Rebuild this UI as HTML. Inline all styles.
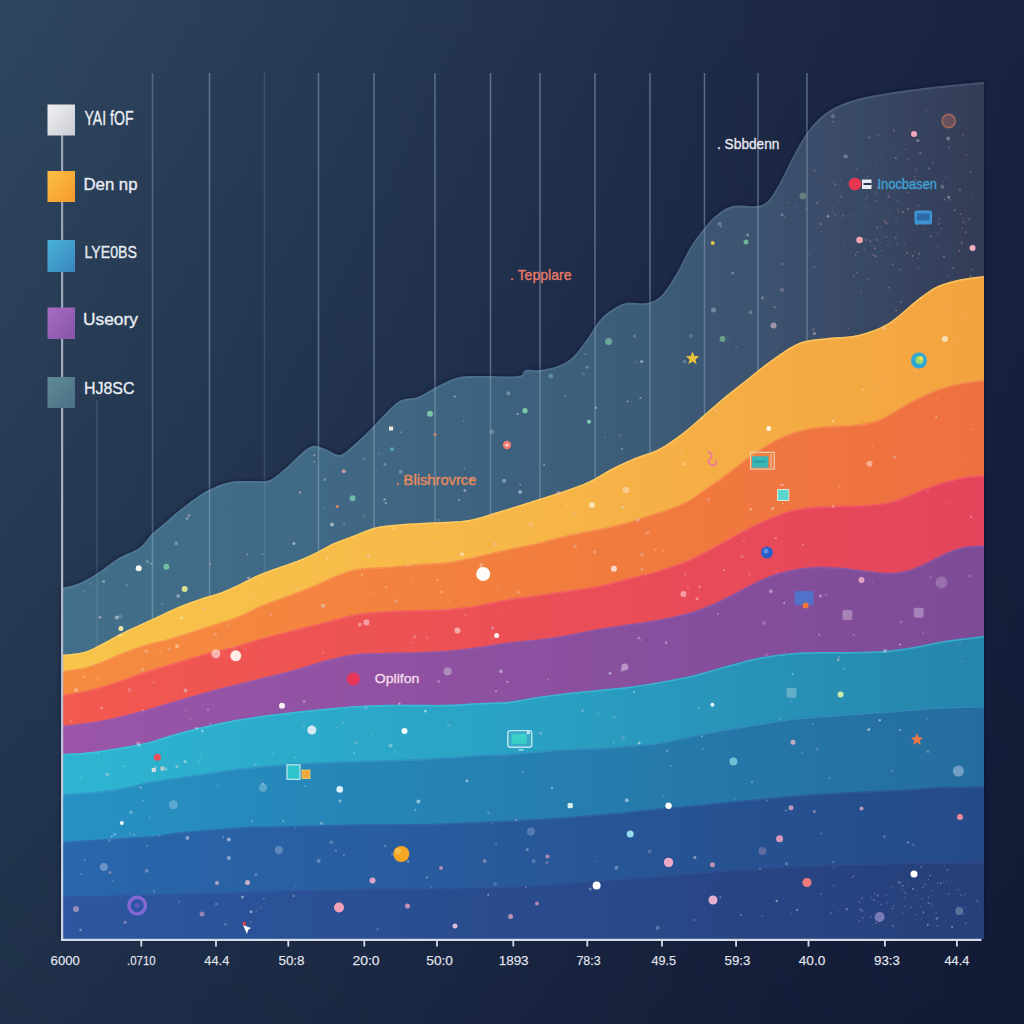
<!DOCTYPE html>
<html><head><meta charset="utf-8"><title>chart</title>
<style>
html,body{margin:0;padding:0;background:#1b2742;}
body{width:1024px;height:1024px;overflow:hidden;font-family:"Liberation Sans",sans-serif;}
svg{display:block;}
text{font-family:"Liberation Sans",sans-serif;}
</style></head><body>
<svg width="1024" height="1024" viewBox="0 0 1024 1024">
<defs>
<linearGradient id="bg" x1="0" y1="0" x2="1" y2="0">
<stop offset="0" stop-color="#2f465f"/><stop offset="0.5" stop-color="#23334f"/><stop offset="0.75" stop-color="#1d2945"/><stop offset="1" stop-color="#19233f"/>
</linearGradient>
<linearGradient id="bgv" x1="0" y1="0" x2="0" y2="1">
<stop offset="0" stop-color="#070d27" stop-opacity="0"/><stop offset="1" stop-color="#070d27" stop-opacity="0.40"/>
</linearGradient>
<linearGradient id="gGrey" x1="62" y1="0" x2="984" y2="0" gradientUnits="userSpaceOnUse">
<stop offset="0" stop-color="#426f8a"/><stop offset="0.25" stop-color="#416a86"/><stop offset="0.5" stop-color="#3d617e"/><stop offset="0.68" stop-color="#3d5975"/><stop offset="0.8" stop-color="#3b4f6c"/><stop offset="0.9" stop-color="#384561"/><stop offset="1" stop-color="#333c57"/>
</linearGradient>
<linearGradient id="gYel" x1="62" y1="0" x2="984" y2="0" gradientUnits="userSpaceOnUse">
<stop offset="0" stop-color="#f8c44a"/><stop offset="0.5" stop-color="#f7b648"/><stop offset="1" stop-color="#f3a340"/>
</linearGradient>
<linearGradient id="gOra" x1="62" y1="0" x2="984" y2="0" gradientUnits="userSpaceOnUse">
<stop offset="0" stop-color="#f68b40"/><stop offset="0.6" stop-color="#f17b3e"/><stop offset="1" stop-color="#ee7040"/>
</linearGradient>
<linearGradient id="gRed" x1="62" y1="0" x2="984" y2="0" gradientUnits="userSpaceOnUse">
<stop offset="0" stop-color="#f2594f"/><stop offset="1" stop-color="#e4455c"/>
</linearGradient>
<linearGradient id="gPur" x1="62" y1="0" x2="984" y2="0" gradientUnits="userSpaceOnUse">
<stop offset="0" stop-color="#9a55a8"/><stop offset="1" stop-color="#7d4c97"/>
</linearGradient>
<linearGradient id="gCya" x1="62" y1="0" x2="984" y2="0" gradientUnits="userSpaceOnUse">
<stop offset="0" stop-color="#2eb5d1"/><stop offset="0.5" stop-color="#2aa1c4"/><stop offset="1" stop-color="#2685ab"/>
</linearGradient>
<linearGradient id="gB1" x1="62" y1="0" x2="984" y2="0" gradientUnits="userSpaceOnUse">
<stop offset="0" stop-color="#2791c3"/><stop offset="1" stop-color="#256d9f"/>
</linearGradient>
<linearGradient id="gB2" x1="62" y1="0" x2="984" y2="0" gradientUnits="userSpaceOnUse">
<stop offset="0" stop-color="#2a67ac"/><stop offset="1" stop-color="#254a88"/>
</linearGradient>
<linearGradient id="gB3" x1="62" y1="0" x2="984" y2="0" gradientUnits="userSpaceOnUse">
<stop offset="0" stop-color="#2c57a0"/><stop offset="1" stop-color="#273f7a"/>
</linearGradient>
<filter id="sh" x="-5%" y="-5%" width="110%" height="110%"><feDropShadow dx="0" dy="0" stdDeviation="2.5" flood-color="#0b1330" flood-opacity="0.55"/></filter>
<clipPath id="clipGrey"><path d="M61.5,588.0 C64.6,587.2 73.6,585.8 80.0,583.0 C86.4,580.2 93.7,575.6 100.0,571.5 C106.3,567.4 111.3,562.5 118.0,558.5 C124.7,554.5 134.3,551.6 140.0,547.5 C145.7,543.4 147.8,538.1 152.0,534.0 C156.2,529.9 160.3,527.0 165.0,523.0 C169.7,519.0 173.3,515.2 180.0,510.0 C186.7,504.8 196.7,496.7 205.0,492.0 C213.3,487.3 221.7,483.8 230.0,482.0 C238.3,480.2 248.3,481.3 255.0,481.0 C261.7,480.7 264.8,482.2 270.0,480.0 C275.2,477.8 279.3,473.5 286.0,468.0 C292.7,462.5 303.5,450.2 310.0,447.0 C316.5,443.8 320.0,447.7 325.0,449.0 C330.0,450.3 335.0,455.8 340.0,455.0 C345.0,454.2 350.0,448.2 355.0,444.0 C360.0,439.8 362.8,437.0 370.0,430.0 C377.2,423.0 390.0,407.5 398.0,402.0 C406.0,396.5 411.2,399.8 418.0,397.0 C424.8,394.2 432.0,388.8 439.0,385.5 C446.0,382.2 452.5,378.6 460.0,377.0 C467.5,375.4 476.5,376.1 484.0,376.0 C491.5,375.9 498.8,376.7 505.0,376.6 C511.2,376.5 517.5,376.6 521.0,375.5 C524.5,374.4 522.8,370.9 526.0,370.0 C529.2,369.1 534.7,370.7 540.0,370.0 C545.3,369.3 552.5,368.2 558.0,366.0 C563.5,363.8 568.0,361.7 573.0,357.0 C578.0,352.3 583.5,344.2 588.0,338.0 C592.5,331.8 596.1,324.7 600.0,320.0 C603.9,315.3 607.3,312.8 611.6,310.0 C615.9,307.2 620.1,304.2 626.0,303.0 C631.9,301.8 641.0,304.3 647.0,303.0 C653.0,301.7 657.0,300.0 662.0,295.0 C667.0,290.0 672.0,281.3 677.0,273.0 C682.0,264.7 687.0,253.0 692.0,245.0 C697.0,237.0 702.7,230.2 707.0,225.0 C711.3,219.8 713.7,217.2 718.0,214.0 C722.3,210.8 726.5,207.3 733.0,206.0 C739.5,204.7 751.0,207.0 757.0,206.0 C763.0,205.0 765.0,204.2 769.0,200.0 C773.0,195.8 777.0,188.2 781.0,181.0 C785.0,173.8 789.0,164.5 793.0,157.0 C797.0,149.5 801.0,142.0 805.0,136.0 C809.0,130.0 812.2,125.7 817.0,121.0 C821.8,116.3 827.2,111.7 834.0,108.0 C840.8,104.3 849.0,101.5 858.0,99.0 C867.0,96.5 875.7,95.0 888.0,93.0 C900.3,91.0 916.0,88.8 932.0,87.0 C948.0,85.2 975.3,82.8 984.0,82.0 L984,939 L61,939 Z"/></clipPath>
<clipPath id="clipChart"><rect x="62" y="60" width="922" height="879"/></clipPath>
</defs>
<rect width="1024" height="1024" fill="url(#bg)"/>
<rect width="1024" height="1024" fill="url(#bgv)"/>

<line x1="97.0" y1="400" x2="97.0" y2="646.1" stroke="#a9bce6" stroke-opacity="0.18" stroke-width="1.5"/>
<line x1="152.5" y1="73" x2="152.5" y2="618.9" stroke="#a9bce6" stroke-opacity="0.33" stroke-width="1.5"/>
<line x1="209.5" y1="73" x2="209.5" y2="595.9" stroke="#a9bce6" stroke-opacity="0.44" stroke-width="1.5"/>
<line x1="264.5" y1="73" x2="264.5" y2="572.7" stroke="#a9bce6" stroke-opacity="0.18" stroke-width="1.5"/>
<line x1="318.5" y1="73" x2="318.5" y2="551.2" stroke="#a9bce6" stroke-opacity="0.44" stroke-width="1.5"/>
<line x1="374.0" y1="73" x2="374.0" y2="528.3" stroke="#a9bce6" stroke-opacity="0.44" stroke-width="1.5"/>
<line x1="435.0" y1="73" x2="435.0" y2="522.2" stroke="#a9bce6" stroke-opacity="0.44" stroke-width="1.5"/>
<line x1="490.5" y1="73" x2="490.5" y2="513.9" stroke="#a9bce6" stroke-opacity="0.44" stroke-width="1.5"/>
<line x1="540.0" y1="73" x2="540.0" y2="498.7" stroke="#a9bce6" stroke-opacity="0.44" stroke-width="1.5"/>
<line x1="595.0" y1="73" x2="595.0" y2="478.1" stroke="#a9bce6" stroke-opacity="0.44" stroke-width="1.5"/>
<line x1="650.0" y1="73" x2="650.0" y2="452.4" stroke="#a9bce6" stroke-opacity="0.44" stroke-width="1.5"/>
<line x1="704.5" y1="73" x2="704.5" y2="414.5" stroke="#a9bce6" stroke-opacity="0.44" stroke-width="1.5"/>
<line x1="758.0" y1="73" x2="758.0" y2="370.7" stroke="#a9bce6" stroke-opacity="0.44" stroke-width="1.5"/>
<line x1="807.0" y1="73" x2="807.0" y2="341.6" stroke="#a9bce6" stroke-opacity="0.44" stroke-width="1.5"/>
<path d="M61.5,588.0 C64.6,587.2 73.6,585.8 80.0,583.0 C86.4,580.2 93.7,575.6 100.0,571.5 C106.3,567.4 111.3,562.5 118.0,558.5 C124.7,554.5 134.3,551.6 140.0,547.5 C145.7,543.4 147.8,538.1 152.0,534.0 C156.2,529.9 160.3,527.0 165.0,523.0 C169.7,519.0 173.3,515.2 180.0,510.0 C186.7,504.8 196.7,496.7 205.0,492.0 C213.3,487.3 221.7,483.8 230.0,482.0 C238.3,480.2 248.3,481.3 255.0,481.0 C261.7,480.7 264.8,482.2 270.0,480.0 C275.2,477.8 279.3,473.5 286.0,468.0 C292.7,462.5 303.5,450.2 310.0,447.0 C316.5,443.8 320.0,447.7 325.0,449.0 C330.0,450.3 335.0,455.8 340.0,455.0 C345.0,454.2 350.0,448.2 355.0,444.0 C360.0,439.8 362.8,437.0 370.0,430.0 C377.2,423.0 390.0,407.5 398.0,402.0 C406.0,396.5 411.2,399.8 418.0,397.0 C424.8,394.2 432.0,388.8 439.0,385.5 C446.0,382.2 452.5,378.6 460.0,377.0 C467.5,375.4 476.5,376.1 484.0,376.0 C491.5,375.9 498.8,376.7 505.0,376.6 C511.2,376.5 517.5,376.6 521.0,375.5 C524.5,374.4 522.8,370.9 526.0,370.0 C529.2,369.1 534.7,370.7 540.0,370.0 C545.3,369.3 552.5,368.2 558.0,366.0 C563.5,363.8 568.0,361.7 573.0,357.0 C578.0,352.3 583.5,344.2 588.0,338.0 C592.5,331.8 596.1,324.7 600.0,320.0 C603.9,315.3 607.3,312.8 611.6,310.0 C615.9,307.2 620.1,304.2 626.0,303.0 C631.9,301.8 641.0,304.3 647.0,303.0 C653.0,301.7 657.0,300.0 662.0,295.0 C667.0,290.0 672.0,281.3 677.0,273.0 C682.0,264.7 687.0,253.0 692.0,245.0 C697.0,237.0 702.7,230.2 707.0,225.0 C711.3,219.8 713.7,217.2 718.0,214.0 C722.3,210.8 726.5,207.3 733.0,206.0 C739.5,204.7 751.0,207.0 757.0,206.0 C763.0,205.0 765.0,204.2 769.0,200.0 C773.0,195.8 777.0,188.2 781.0,181.0 C785.0,173.8 789.0,164.5 793.0,157.0 C797.0,149.5 801.0,142.0 805.0,136.0 C809.0,130.0 812.2,125.7 817.0,121.0 C821.8,116.3 827.2,111.7 834.0,108.0 C840.8,104.3 849.0,101.5 858.0,99.0 C867.0,96.5 875.7,95.0 888.0,93.0 C900.3,91.0 916.0,88.8 932.0,87.0 C948.0,85.2 975.3,82.8 984.0,82.0 L984,939 L61,939 Z" fill="url(#gGrey)" filter="url(#sh)"/>
<path d="M61.5,588.0 C64.6,587.2 73.6,585.8 80.0,583.0 C86.4,580.2 93.7,575.6 100.0,571.5 C106.3,567.4 111.3,562.5 118.0,558.5 C124.7,554.5 134.3,551.6 140.0,547.5 C145.7,543.4 147.8,538.1 152.0,534.0 C156.2,529.9 160.3,527.0 165.0,523.0 C169.7,519.0 173.3,515.2 180.0,510.0 C186.7,504.8 196.7,496.7 205.0,492.0 C213.3,487.3 221.7,483.8 230.0,482.0 C238.3,480.2 248.3,481.3 255.0,481.0 C261.7,480.7 264.8,482.2 270.0,480.0 C275.2,477.8 279.3,473.5 286.0,468.0 C292.7,462.5 303.5,450.2 310.0,447.0 C316.5,443.8 320.0,447.7 325.0,449.0 C330.0,450.3 335.0,455.8 340.0,455.0 C345.0,454.2 350.0,448.2 355.0,444.0 C360.0,439.8 362.8,437.0 370.0,430.0 C377.2,423.0 390.0,407.5 398.0,402.0 C406.0,396.5 411.2,399.8 418.0,397.0 C424.8,394.2 432.0,388.8 439.0,385.5 C446.0,382.2 452.5,378.6 460.0,377.0 C467.5,375.4 476.5,376.1 484.0,376.0 C491.5,375.9 498.8,376.7 505.0,376.6 C511.2,376.5 517.5,376.6 521.0,375.5 C524.5,374.4 522.8,370.9 526.0,370.0 C529.2,369.1 534.7,370.7 540.0,370.0 C545.3,369.3 552.5,368.2 558.0,366.0 C563.5,363.8 568.0,361.7 573.0,357.0 C578.0,352.3 583.5,344.2 588.0,338.0 C592.5,331.8 596.1,324.7 600.0,320.0 C603.9,315.3 607.3,312.8 611.6,310.0 C615.9,307.2 620.1,304.2 626.0,303.0 C631.9,301.8 641.0,304.3 647.0,303.0 C653.0,301.7 657.0,300.0 662.0,295.0 C667.0,290.0 672.0,281.3 677.0,273.0 C682.0,264.7 687.0,253.0 692.0,245.0 C697.0,237.0 702.7,230.2 707.0,225.0 C711.3,219.8 713.7,217.2 718.0,214.0 C722.3,210.8 726.5,207.3 733.0,206.0 C739.5,204.7 751.0,207.0 757.0,206.0 C763.0,205.0 765.0,204.2 769.0,200.0 C773.0,195.8 777.0,188.2 781.0,181.0 C785.0,173.8 789.0,164.5 793.0,157.0 C797.0,149.5 801.0,142.0 805.0,136.0 C809.0,130.0 812.2,125.7 817.0,121.0 C821.8,116.3 827.2,111.7 834.0,108.0 C840.8,104.3 849.0,101.5 858.0,99.0 C867.0,96.5 875.7,95.0 888.0,93.0 C900.3,91.0 916.0,88.8 932.0,87.0 C948.0,85.2 975.3,82.8 984.0,82.0" fill="none" stroke="#7fa0b6" stroke-opacity="0.22" stroke-width="2" transform="translate(0,1)"/>
<g clip-path="url(#clipGrey)">
<line x1="97.0" y1="72" x2="97.0" y2="646.1" stroke="#c5d3e0" stroke-opacity="0.12" stroke-width="1.5"/>
<line x1="152.5" y1="72" x2="152.5" y2="618.9" stroke="#c5d3e0" stroke-opacity="0.30" stroke-width="1.5"/>
<line x1="209.5" y1="72" x2="209.5" y2="595.9" stroke="#c5d3e0" stroke-opacity="0.30" stroke-width="1.5"/>
<line x1="264.5" y1="72" x2="264.5" y2="572.7" stroke="#c5d3e0" stroke-opacity="0.12" stroke-width="1.5"/>
<line x1="318.5" y1="72" x2="318.5" y2="551.2" stroke="#c5d3e0" stroke-opacity="0.30" stroke-width="1.5"/>
<line x1="374.0" y1="72" x2="374.0" y2="528.3" stroke="#c5d3e0" stroke-opacity="0.30" stroke-width="1.5"/>
<line x1="435.0" y1="72" x2="435.0" y2="522.2" stroke="#c5d3e0" stroke-opacity="0.30" stroke-width="1.5"/>
<line x1="490.5" y1="72" x2="490.5" y2="513.9" stroke="#c5d3e0" stroke-opacity="0.30" stroke-width="1.5"/>
<line x1="540.0" y1="72" x2="540.0" y2="498.7" stroke="#c5d3e0" stroke-opacity="0.30" stroke-width="1.5"/>
<line x1="595.0" y1="72" x2="595.0" y2="478.1" stroke="#c5d3e0" stroke-opacity="0.30" stroke-width="1.5"/>
<line x1="650.0" y1="72" x2="650.0" y2="452.4" stroke="#c5d3e0" stroke-opacity="0.30" stroke-width="1.5"/>
<line x1="704.5" y1="72" x2="704.5" y2="414.5" stroke="#c5d3e0" stroke-opacity="0.30" stroke-width="1.5"/>
<line x1="758.0" y1="72" x2="758.0" y2="370.7" stroke="#c5d3e0" stroke-opacity="0.30" stroke-width="1.5"/>
<line x1="807.0" y1="72" x2="807.0" y2="341.6" stroke="#c5d3e0" stroke-opacity="0.30" stroke-width="1.5"/>
</g>
<path d="M61.5,655.0 C65.2,654.5 77.3,653.8 84.0,652.0 C90.7,650.2 95.7,646.9 101.6,644.0 C107.5,641.1 113.5,637.4 119.4,634.4 C125.3,631.4 131.1,628.8 137.0,626.0 C142.9,623.2 148.0,621.0 155.0,617.8 C162.0,614.6 170.9,610.1 178.8,606.8 C186.7,603.5 195.6,600.3 202.5,598.0 C209.4,595.7 214.1,595.0 220.0,592.8 C225.9,590.6 232.0,587.8 238.0,585.0 C244.0,582.2 250.0,578.7 256.0,576.0 C262.0,573.3 266.9,571.5 273.8,569.0 C280.7,566.5 290.6,563.5 297.5,560.8 C304.4,558.1 309.1,555.9 315.0,553.0 C320.9,550.1 327.2,546.2 333.0,543.5 C338.8,540.8 344.7,539.1 350.0,537.0 C355.3,534.9 360.0,532.8 365.0,531.0 C370.0,529.2 372.5,527.8 380.0,526.5 C387.5,525.2 400.2,524.2 410.0,523.5 C419.8,522.8 429.2,522.6 439.0,522.0 C448.8,521.4 459.0,521.8 469.0,520.0 C479.0,518.2 489.2,514.4 499.0,511.5 C508.8,508.6 518.2,505.6 528.0,502.5 C537.8,499.4 548.0,496.4 558.0,493.0 C568.0,489.6 579.0,486.1 588.0,482.0 C597.0,477.9 604.2,472.6 612.0,468.6 C619.8,464.6 627.2,461.3 635.0,458.0 C642.8,454.7 651.0,453.2 659.0,449.0 C667.0,444.8 675.2,438.8 682.8,433.0 C690.4,427.2 697.3,420.6 704.6,414.4 C711.9,408.2 719.8,401.2 726.5,395.6 C733.2,390.0 737.9,386.6 745.0,381.0 C752.1,375.4 760.0,368.3 769.0,362.0 C778.0,355.7 789.2,347.0 799.0,343.0 C808.8,339.0 818.2,339.3 828.0,338.0 C837.8,336.7 848.0,337.4 858.0,335.0 C868.0,332.6 878.2,329.3 888.0,323.5 C897.8,317.7 908.7,306.2 917.0,300.0 C925.3,293.8 930.5,289.5 938.0,286.0 C945.5,282.5 954.3,280.7 962.0,279.0 C969.7,277.3 980.3,276.5 984.0,276.0 L984,939 L61,939 Z" fill="url(#gYel)"/>
<path d="M61.5,655.0 C65.2,654.5 77.3,653.8 84.0,652.0 C90.7,650.2 95.7,646.9 101.6,644.0 C107.5,641.1 113.5,637.4 119.4,634.4 C125.3,631.4 131.1,628.8 137.0,626.0 C142.9,623.2 148.0,621.0 155.0,617.8 C162.0,614.6 170.9,610.1 178.8,606.8 C186.7,603.5 195.6,600.3 202.5,598.0 C209.4,595.7 214.1,595.0 220.0,592.8 C225.9,590.6 232.0,587.8 238.0,585.0 C244.0,582.2 250.0,578.7 256.0,576.0 C262.0,573.3 266.9,571.5 273.8,569.0 C280.7,566.5 290.6,563.5 297.5,560.8 C304.4,558.1 309.1,555.9 315.0,553.0 C320.9,550.1 327.2,546.2 333.0,543.5 C338.8,540.8 344.7,539.1 350.0,537.0 C355.3,534.9 360.0,532.8 365.0,531.0 C370.0,529.2 372.5,527.8 380.0,526.5 C387.5,525.2 400.2,524.2 410.0,523.5 C419.8,522.8 429.2,522.6 439.0,522.0 C448.8,521.4 459.0,521.8 469.0,520.0 C479.0,518.2 489.2,514.4 499.0,511.5 C508.8,508.6 518.2,505.6 528.0,502.5 C537.8,499.4 548.0,496.4 558.0,493.0 C568.0,489.6 579.0,486.1 588.0,482.0 C597.0,477.9 604.2,472.6 612.0,468.6 C619.8,464.6 627.2,461.3 635.0,458.0 C642.8,454.7 651.0,453.2 659.0,449.0 C667.0,444.8 675.2,438.8 682.8,433.0 C690.4,427.2 697.3,420.6 704.6,414.4 C711.9,408.2 719.8,401.2 726.5,395.6 C733.2,390.0 737.9,386.6 745.0,381.0 C752.1,375.4 760.0,368.3 769.0,362.0 C778.0,355.7 789.2,347.0 799.0,343.0 C808.8,339.0 818.2,339.3 828.0,338.0 C837.8,336.7 848.0,337.4 858.0,335.0 C868.0,332.6 878.2,329.3 888.0,323.5 C897.8,317.7 908.7,306.2 917.0,300.0 C925.3,293.8 930.5,289.5 938.0,286.0 C945.5,282.5 954.3,280.7 962.0,279.0 C969.7,277.3 980.3,276.5 984.0,276.0" fill="none" stroke="#ffd873" stroke-opacity="0.55" stroke-width="1.6" transform="translate(0,0.8)"/>
<path d="M61.5,671.0 C65.2,670.5 77.3,669.2 84.0,667.7 C90.7,666.2 95.7,663.9 101.6,661.7 C107.5,659.5 112.5,657.0 119.4,654.3 C126.3,651.6 135.1,647.9 143.0,645.4 C150.9,642.9 159.1,641.7 167.0,639.5 C174.9,637.3 182.7,634.5 190.6,632.0 C198.5,629.5 206.5,627.2 214.4,624.6 C222.3,622.0 230.1,619.8 238.0,616.6 C245.9,613.4 254.1,608.7 262.0,605.3 C269.9,601.9 277.7,599.4 285.6,596.4 C293.5,593.4 301.5,590.7 309.4,587.5 C317.3,584.3 325.1,580.1 333.0,577.0 C340.9,573.9 347.6,570.7 357.0,569.0 C366.4,567.3 379.3,567.5 389.7,566.7 C400.1,565.9 409.5,564.8 419.4,564.0 C429.3,563.2 439.1,563.3 449.0,562.0 C458.9,560.7 468.9,558.2 478.8,556.0 C488.7,553.8 498.6,551.2 508.5,549.0 C518.4,546.8 529.8,544.9 538.0,543.0 C546.2,541.1 549.7,539.5 558.0,537.5 C566.3,535.5 578.2,533.1 588.0,531.0 C597.8,528.9 607.2,527.5 617.0,525.0 C626.8,522.5 636.0,519.6 647.0,516.0 C658.0,512.4 673.2,507.8 682.8,503.4 C692.4,499.0 697.3,494.3 704.6,489.4 C711.9,484.5 718.7,479.5 726.5,473.8 C734.3,468.1 743.2,460.7 751.5,455.0 C759.8,449.3 768.2,443.6 776.5,439.4 C784.8,435.2 793.2,432.2 801.5,430.0 C809.8,427.8 818.2,426.8 826.5,426.0 C834.8,425.2 843.2,425.9 851.5,425.0 C859.8,424.1 869.2,422.9 876.5,420.6 C883.8,418.3 888.8,414.4 895.0,411.0 C901.2,407.6 906.7,403.7 914.0,400.0 C921.3,396.3 930.7,391.9 939.0,389.0 C947.3,386.1 956.5,384.0 964.0,382.5 C971.5,381.0 980.7,380.4 984.0,380.0 L984,939 L61,939 Z" fill="url(#gOra)"/>
<path d="M61.5,671.0 C65.2,670.5 77.3,669.2 84.0,667.7 C90.7,666.2 95.7,663.9 101.6,661.7 C107.5,659.5 112.5,657.0 119.4,654.3 C126.3,651.6 135.1,647.9 143.0,645.4 C150.9,642.9 159.1,641.7 167.0,639.5 C174.9,637.3 182.7,634.5 190.6,632.0 C198.5,629.5 206.5,627.2 214.4,624.6 C222.3,622.0 230.1,619.8 238.0,616.6 C245.9,613.4 254.1,608.7 262.0,605.3 C269.9,601.9 277.7,599.4 285.6,596.4 C293.5,593.4 301.5,590.7 309.4,587.5 C317.3,584.3 325.1,580.1 333.0,577.0 C340.9,573.9 347.6,570.7 357.0,569.0 C366.4,567.3 379.3,567.5 389.7,566.7 C400.1,565.9 409.5,564.8 419.4,564.0 C429.3,563.2 439.1,563.3 449.0,562.0 C458.9,560.7 468.9,558.2 478.8,556.0 C488.7,553.8 498.6,551.2 508.5,549.0 C518.4,546.8 529.8,544.9 538.0,543.0 C546.2,541.1 549.7,539.5 558.0,537.5 C566.3,535.5 578.2,533.1 588.0,531.0 C597.8,528.9 607.2,527.5 617.0,525.0 C626.8,522.5 636.0,519.6 647.0,516.0 C658.0,512.4 673.2,507.8 682.8,503.4 C692.4,499.0 697.3,494.3 704.6,489.4 C711.9,484.5 718.7,479.5 726.5,473.8 C734.3,468.1 743.2,460.7 751.5,455.0 C759.8,449.3 768.2,443.6 776.5,439.4 C784.8,435.2 793.2,432.2 801.5,430.0 C809.8,427.8 818.2,426.8 826.5,426.0 C834.8,425.2 843.2,425.9 851.5,425.0 C859.8,424.1 869.2,422.9 876.5,420.6 C883.8,418.3 888.8,414.4 895.0,411.0 C901.2,407.6 906.7,403.7 914.0,400.0 C921.3,396.3 930.7,391.9 939.0,389.0 C947.3,386.1 956.5,384.0 964.0,382.5 C971.5,381.0 980.7,380.4 984.0,380.0" fill="none" stroke="#f9a05a" stroke-opacity="0.55" stroke-width="1.6" transform="translate(0,0.8)"/>
<path d="M61.5,695.0 C66.2,694.2 80.0,692.3 89.7,690.0 C99.4,687.7 109.5,684.2 119.4,681.0 C129.3,677.8 139.1,673.8 149.0,670.6 C158.9,667.4 168.9,664.7 178.8,661.7 C188.7,658.7 198.6,655.5 208.5,652.8 C218.4,650.1 228.1,648.1 238.0,645.4 C247.9,642.7 257.9,639.2 267.8,636.5 C277.7,633.8 287.6,631.5 297.5,629.0 C307.4,626.5 317.1,624.1 327.0,621.6 C336.9,619.1 346.6,615.8 357.0,614.0 C367.4,612.2 379.3,611.7 389.7,611.0 C400.1,610.3 409.5,610.3 419.4,610.0 C429.3,609.7 439.1,609.8 449.0,609.0 C458.9,608.2 468.9,606.7 478.8,605.0 C488.7,603.3 498.6,600.7 508.5,599.0 C518.4,597.3 528.1,596.4 538.0,595.0 C547.9,593.6 557.9,592.0 567.8,590.5 C577.7,589.0 587.6,588.0 597.5,586.0 C607.4,584.0 617.1,581.1 627.0,578.6 C636.9,576.1 646.7,574.1 657.0,571.0 C667.3,567.9 679.5,563.7 689.0,559.7 C698.5,555.7 705.7,551.5 714.0,547.0 C722.3,542.5 730.7,537.4 739.0,533.0 C747.3,528.6 755.7,524.3 764.0,520.6 C772.3,516.9 780.7,513.3 789.0,511.0 C797.3,508.7 805.7,507.5 814.0,506.6 C822.3,505.7 830.7,505.9 839.0,505.6 C847.3,505.3 855.7,505.6 864.0,505.0 C872.3,504.4 881.7,503.6 889.0,502.0 C896.3,500.4 901.5,498.0 907.8,495.6 C914.0,493.2 920.3,490.1 926.5,487.8 C932.7,485.5 938.8,483.4 945.0,481.6 C951.2,479.8 957.5,478.1 964.0,477.0 C970.5,475.9 980.7,475.3 984.0,475.0 L984,939 L61,939 Z" fill="url(#gRed)"/>
<path d="M61.5,695.0 C66.2,694.2 80.0,692.3 89.7,690.0 C99.4,687.7 109.5,684.2 119.4,681.0 C129.3,677.8 139.1,673.8 149.0,670.6 C158.9,667.4 168.9,664.7 178.8,661.7 C188.7,658.7 198.6,655.5 208.5,652.8 C218.4,650.1 228.1,648.1 238.0,645.4 C247.9,642.7 257.9,639.2 267.8,636.5 C277.7,633.8 287.6,631.5 297.5,629.0 C307.4,626.5 317.1,624.1 327.0,621.6 C336.9,619.1 346.6,615.8 357.0,614.0 C367.4,612.2 379.3,611.7 389.7,611.0 C400.1,610.3 409.5,610.3 419.4,610.0 C429.3,609.7 439.1,609.8 449.0,609.0 C458.9,608.2 468.9,606.7 478.8,605.0 C488.7,603.3 498.6,600.7 508.5,599.0 C518.4,597.3 528.1,596.4 538.0,595.0 C547.9,593.6 557.9,592.0 567.8,590.5 C577.7,589.0 587.6,588.0 597.5,586.0 C607.4,584.0 617.1,581.1 627.0,578.6 C636.9,576.1 646.7,574.1 657.0,571.0 C667.3,567.9 679.5,563.7 689.0,559.7 C698.5,555.7 705.7,551.5 714.0,547.0 C722.3,542.5 730.7,537.4 739.0,533.0 C747.3,528.6 755.7,524.3 764.0,520.6 C772.3,516.9 780.7,513.3 789.0,511.0 C797.3,508.7 805.7,507.5 814.0,506.6 C822.3,505.7 830.7,505.9 839.0,505.6 C847.3,505.3 855.7,505.6 864.0,505.0 C872.3,504.4 881.7,503.6 889.0,502.0 C896.3,500.4 901.5,498.0 907.8,495.6 C914.0,493.2 920.3,490.1 926.5,487.8 C932.7,485.5 938.8,483.4 945.0,481.6 C951.2,479.8 957.5,478.1 964.0,477.0 C970.5,475.9 980.7,475.3 984.0,475.0" fill="none" stroke="#f7716a" stroke-opacity="0.55" stroke-width="1.6" transform="translate(0,0.8)"/>
<path d="M61.5,726.0 C66.2,725.4 80.0,724.1 89.7,722.6 C99.4,721.1 109.5,719.0 119.4,716.7 C129.3,714.4 139.1,711.8 149.0,709.0 C158.9,706.2 168.9,702.9 178.8,700.0 C188.7,697.1 198.6,694.1 208.5,691.4 C218.4,688.7 228.1,686.5 238.0,684.0 C247.9,681.5 257.9,679.1 267.8,676.6 C277.7,674.1 287.6,671.8 297.5,669.0 C307.4,666.2 317.1,662.5 327.0,660.0 C336.9,657.5 346.6,655.2 357.0,654.0 C367.4,652.8 379.3,653.1 389.7,652.8 C400.1,652.5 409.5,652.4 419.4,652.0 C429.3,651.6 439.1,651.3 449.0,650.5 C458.9,649.7 468.9,648.4 478.8,647.0 C488.7,645.6 498.6,643.6 508.5,642.4 C518.4,641.1 528.1,640.7 538.0,639.5 C547.9,638.3 557.9,636.8 567.8,635.0 C577.7,633.2 587.6,630.7 597.5,629.0 C607.4,627.3 617.1,626.1 627.0,624.6 C636.9,623.1 646.7,622.0 657.0,620.0 C667.3,618.0 679.5,615.6 689.0,612.8 C698.5,610.0 705.7,607.0 714.0,603.4 C722.3,599.8 730.7,595.2 739.0,591.0 C747.3,586.8 755.7,581.8 764.0,578.4 C772.3,575.0 780.7,572.5 789.0,570.6 C797.3,568.7 805.7,567.5 814.0,567.0 C822.3,566.5 830.7,566.9 839.0,567.5 C847.3,568.1 855.7,569.7 864.0,570.6 C872.3,571.5 881.7,573.0 889.0,573.0 C896.3,573.0 901.5,572.3 907.8,570.6 C914.0,568.9 920.3,565.7 926.5,562.8 C932.7,559.9 938.8,556.0 945.0,553.4 C951.2,550.8 957.5,548.3 964.0,547.0 C970.5,545.7 980.7,545.8 984.0,545.6 L984,939 L61,939 Z" fill="url(#gPur)"/>
<path d="M61.5,726.0 C66.2,725.4 80.0,724.1 89.7,722.6 C99.4,721.1 109.5,719.0 119.4,716.7 C129.3,714.4 139.1,711.8 149.0,709.0 C158.9,706.2 168.9,702.9 178.8,700.0 C188.7,697.1 198.6,694.1 208.5,691.4 C218.4,688.7 228.1,686.5 238.0,684.0 C247.9,681.5 257.9,679.1 267.8,676.6 C277.7,674.1 287.6,671.8 297.5,669.0 C307.4,666.2 317.1,662.5 327.0,660.0 C336.9,657.5 346.6,655.2 357.0,654.0 C367.4,652.8 379.3,653.1 389.7,652.8 C400.1,652.5 409.5,652.4 419.4,652.0 C429.3,651.6 439.1,651.3 449.0,650.5 C458.9,649.7 468.9,648.4 478.8,647.0 C488.7,645.6 498.6,643.6 508.5,642.4 C518.4,641.1 528.1,640.7 538.0,639.5 C547.9,638.3 557.9,636.8 567.8,635.0 C577.7,633.2 587.6,630.7 597.5,629.0 C607.4,627.3 617.1,626.1 627.0,624.6 C636.9,623.1 646.7,622.0 657.0,620.0 C667.3,618.0 679.5,615.6 689.0,612.8 C698.5,610.0 705.7,607.0 714.0,603.4 C722.3,599.8 730.7,595.2 739.0,591.0 C747.3,586.8 755.7,581.8 764.0,578.4 C772.3,575.0 780.7,572.5 789.0,570.6 C797.3,568.7 805.7,567.5 814.0,567.0 C822.3,566.5 830.7,566.9 839.0,567.5 C847.3,568.1 855.7,569.7 864.0,570.6 C872.3,571.5 881.7,573.0 889.0,573.0 C896.3,573.0 901.5,572.3 907.8,570.6 C914.0,568.9 920.3,565.7 926.5,562.8 C932.7,559.9 938.8,556.0 945.0,553.4 C951.2,550.8 957.5,548.3 964.0,547.0 C970.5,545.7 980.7,545.8 984.0,545.6" fill="none" stroke="#a66bbd" stroke-opacity="0.30" stroke-width="1.6" transform="translate(0,0.8)"/>
<path d="M61.5,754.0 C66.2,753.7 80.0,753.3 89.7,752.3 C99.4,751.3 109.5,749.5 119.4,747.8 C129.3,746.1 139.1,744.5 149.0,742.0 C158.9,739.5 168.9,735.7 178.8,733.0 C188.7,730.3 198.6,727.8 208.5,725.6 C218.4,723.4 228.1,721.4 238.0,719.6 C247.9,717.8 257.9,716.3 267.8,715.0 C277.7,713.7 287.6,712.7 297.5,711.6 C307.4,710.5 317.1,709.5 327.0,708.6 C336.9,707.7 346.6,706.6 357.0,706.0 C367.4,705.4 379.3,705.0 389.7,704.8 C400.1,704.6 409.5,704.8 419.4,704.8 C429.3,704.8 439.1,705.1 449.0,704.8 C458.9,704.5 468.9,703.5 478.8,703.0 C488.7,702.5 498.6,702.8 508.5,701.8 C518.4,700.8 528.1,698.5 538.0,697.0 C547.9,695.5 557.9,694.2 567.8,693.0 C577.7,691.8 587.6,691.0 597.5,690.0 C607.4,689.0 617.1,688.2 627.0,687.0 C636.9,685.8 645.7,684.5 657.0,682.5 C668.3,680.5 683.4,677.8 695.0,675.0 C706.6,672.2 716.0,668.8 726.5,666.0 C737.0,663.2 747.4,660.1 757.8,658.0 C768.2,655.9 778.6,654.4 789.0,653.4 C799.4,652.4 809.6,652.2 820.0,652.0 C830.4,651.8 841.0,652.2 851.5,652.0 C862.0,651.8 872.4,651.8 882.8,651.0 C893.2,650.2 903.6,648.7 914.0,647.0 C924.4,645.3 933.3,642.8 945.0,641.0 C956.7,639.2 977.5,636.8 984.0,636.0 L984,939 L61,939 Z" fill="url(#gCya)"/>
<path d="M61.5,754.0 C66.2,753.7 80.0,753.3 89.7,752.3 C99.4,751.3 109.5,749.5 119.4,747.8 C129.3,746.1 139.1,744.5 149.0,742.0 C158.9,739.5 168.9,735.7 178.8,733.0 C188.7,730.3 198.6,727.8 208.5,725.6 C218.4,723.4 228.1,721.4 238.0,719.6 C247.9,717.8 257.9,716.3 267.8,715.0 C277.7,713.7 287.6,712.7 297.5,711.6 C307.4,710.5 317.1,709.5 327.0,708.6 C336.9,707.7 346.6,706.6 357.0,706.0 C367.4,705.4 379.3,705.0 389.7,704.8 C400.1,704.6 409.5,704.8 419.4,704.8 C429.3,704.8 439.1,705.1 449.0,704.8 C458.9,704.5 468.9,703.5 478.8,703.0 C488.7,702.5 498.6,702.8 508.5,701.8 C518.4,700.8 528.1,698.5 538.0,697.0 C547.9,695.5 557.9,694.2 567.8,693.0 C577.7,691.8 587.6,691.0 597.5,690.0 C607.4,689.0 617.1,688.2 627.0,687.0 C636.9,685.8 645.7,684.5 657.0,682.5 C668.3,680.5 683.4,677.8 695.0,675.0 C706.6,672.2 716.0,668.8 726.5,666.0 C737.0,663.2 747.4,660.1 757.8,658.0 C768.2,655.9 778.6,654.4 789.0,653.4 C799.4,652.4 809.6,652.2 820.0,652.0 C830.4,651.8 841.0,652.2 851.5,652.0 C862.0,651.8 872.4,651.8 882.8,651.0 C893.2,650.2 903.6,648.7 914.0,647.0 C924.4,645.3 933.3,642.8 945.0,641.0 C956.7,639.2 977.5,636.8 984.0,636.0" fill="none" stroke="#47c8e2" stroke-opacity="0.55" stroke-width="1.6" transform="translate(0,0.8)"/>
<path d="M61.5,794.0 C66.2,793.7 80.0,793.3 89.7,792.4 C99.4,791.5 109.5,790.5 119.4,788.8 C129.3,787.1 139.1,783.9 149.0,782.0 C158.9,780.1 168.9,779.0 178.8,777.5 C188.7,776.0 198.6,774.5 208.5,773.0 C218.4,771.5 228.1,769.8 238.0,768.6 C247.9,767.4 257.9,766.5 267.8,765.6 C277.7,764.7 287.6,763.9 297.5,763.3 C307.4,762.7 317.1,762.4 327.0,762.0 C336.9,761.6 341.6,761.5 357.0,761.0 C372.4,760.5 399.1,760.0 419.4,759.0 C439.7,758.0 463.9,755.9 478.8,755.0 C493.7,754.1 498.6,754.4 508.5,753.8 C518.4,753.2 528.1,752.2 538.0,751.4 C547.9,750.6 557.9,749.6 567.8,749.0 C577.7,748.4 587.6,748.4 597.5,747.8 C607.4,747.2 617.1,746.3 627.0,745.5 C636.9,744.7 645.7,744.8 657.0,743.0 C668.3,741.2 683.4,737.4 695.0,735.0 C706.6,732.6 716.0,730.6 726.5,728.8 C737.0,727.0 747.4,725.6 757.8,724.0 C768.2,722.4 778.6,720.3 789.0,719.0 C799.4,717.7 809.6,716.9 820.0,716.0 C830.4,715.1 841.0,714.5 851.5,713.8 C862.0,713.1 872.4,712.4 882.8,711.6 C893.2,710.8 903.6,709.8 914.0,709.0 C924.4,708.2 933.3,707.5 945.0,707.0 C956.7,706.5 977.5,706.2 984.0,706.0 L984,939 L61,939 Z" fill="url(#gB1)"/>
<path d="M61.5,794.0 C66.2,793.7 80.0,793.3 89.7,792.4 C99.4,791.5 109.5,790.5 119.4,788.8 C129.3,787.1 139.1,783.9 149.0,782.0 C158.9,780.1 168.9,779.0 178.8,777.5 C188.7,776.0 198.6,774.5 208.5,773.0 C218.4,771.5 228.1,769.8 238.0,768.6 C247.9,767.4 257.9,766.5 267.8,765.6 C277.7,764.7 287.6,763.9 297.5,763.3 C307.4,762.7 317.1,762.4 327.0,762.0 C336.9,761.6 341.6,761.5 357.0,761.0 C372.4,760.5 399.1,760.0 419.4,759.0 C439.7,758.0 463.9,755.9 478.8,755.0 C493.7,754.1 498.6,754.4 508.5,753.8 C518.4,753.2 528.1,752.2 538.0,751.4 C547.9,750.6 557.9,749.6 567.8,749.0 C577.7,748.4 587.6,748.4 597.5,747.8 C607.4,747.2 617.1,746.3 627.0,745.5 C636.9,744.7 645.7,744.8 657.0,743.0 C668.3,741.2 683.4,737.4 695.0,735.0 C706.6,732.6 716.0,730.6 726.5,728.8 C737.0,727.0 747.4,725.6 757.8,724.0 C768.2,722.4 778.6,720.3 789.0,719.0 C799.4,717.7 809.6,716.9 820.0,716.0 C830.4,715.1 841.0,714.5 851.5,713.8 C862.0,713.1 872.4,712.4 882.8,711.6 C893.2,710.8 903.6,709.8 914.0,709.0 C924.4,708.2 933.3,707.5 945.0,707.0 C956.7,706.5 977.5,706.2 984.0,706.0" fill="none" stroke="#3aa0cf" stroke-opacity="0.55" stroke-width="1.6" transform="translate(0,0.8)"/>
<path d="M61.5,842.0 C67.9,841.6 84.6,840.5 100.0,839.5 C115.4,838.5 140.7,837.2 153.8,836.0 C166.9,834.8 163.2,834.0 178.8,832.5 C194.4,831.0 232.7,828.0 247.5,827.0 C262.3,826.0 249.6,826.9 267.8,826.5 C286.1,826.1 331.7,824.8 357.0,824.4 C382.3,824.0 399.1,824.4 419.4,824.0 C439.7,823.6 459.0,822.8 478.8,822.0 C498.6,821.2 518.2,820.2 538.0,819.0 C557.8,817.8 577.7,816.3 597.5,814.6 C617.3,812.9 640.8,810.3 657.0,808.7 C673.2,807.1 683.4,806.1 695.0,805.0 C706.6,803.9 716.0,803.0 726.5,802.0 C737.0,801.0 747.4,800.0 757.8,799.0 C768.2,798.0 778.6,796.9 789.0,796.0 C799.4,795.1 809.6,794.5 820.0,793.8 C830.4,793.1 841.0,792.5 851.5,792.0 C862.0,791.5 872.4,791.1 882.8,790.6 C893.2,790.1 903.6,789.5 914.0,788.8 C924.4,788.1 933.3,787.0 945.0,786.6 C956.7,786.2 977.5,786.6 984.0,786.6 L984,939 L61,939 Z" fill="url(#gB2)"/>
<path d="M61.5,842.0 C67.9,841.6 84.6,840.5 100.0,839.5 C115.4,838.5 140.7,837.2 153.8,836.0 C166.9,834.8 163.2,834.0 178.8,832.5 C194.4,831.0 232.7,828.0 247.5,827.0 C262.3,826.0 249.6,826.9 267.8,826.5 C286.1,826.1 331.7,824.8 357.0,824.4 C382.3,824.0 399.1,824.4 419.4,824.0 C439.7,823.6 459.0,822.8 478.8,822.0 C498.6,821.2 518.2,820.2 538.0,819.0 C557.8,817.8 577.7,816.3 597.5,814.6 C617.3,812.9 640.8,810.3 657.0,808.7 C673.2,807.1 683.4,806.1 695.0,805.0 C706.6,803.9 716.0,803.0 726.5,802.0 C737.0,801.0 747.4,800.0 757.8,799.0 C768.2,798.0 778.6,796.9 789.0,796.0 C799.4,795.1 809.6,794.5 820.0,793.8 C830.4,793.1 841.0,792.5 851.5,792.0 C862.0,791.5 872.4,791.1 882.8,790.6 C893.2,790.1 903.6,789.5 914.0,788.8 C924.4,788.1 933.3,787.0 945.0,786.6 C956.7,786.2 977.5,786.6 984.0,786.6" fill="none" stroke="#3a77b8" stroke-opacity="0.30" stroke-width="1.6" transform="translate(0,0.8)"/>
<path d="M61.5,896.0 C67.9,895.9 85.2,895.8 100.0,895.5 C114.8,895.2 130.7,895.0 150.0,894.5 C169.3,894.0 191.0,893.2 216.0,892.5 C241.0,891.8 273.9,890.7 300.0,890.0 C326.1,889.3 347.5,888.9 372.5,888.5 C397.5,888.1 424.4,888.0 450.0,887.5 C475.6,887.0 501.0,886.9 526.0,885.6 C551.0,884.4 577.0,881.7 600.0,880.0 C623.0,878.3 642.9,877.3 664.0,875.6 C685.1,873.9 705.7,871.6 726.5,870.0 C747.3,868.4 768.2,867.0 789.0,866.0 C809.8,865.0 830.7,864.4 851.5,863.8 C872.3,863.2 891.9,862.9 914.0,862.5 C936.1,862.1 972.3,861.8 984.0,861.6 L984,939 L61,939 Z" fill="url(#gB3)"/>
<path d="M61.5,896.0 C67.9,895.9 85.2,895.8 100.0,895.5 C114.8,895.2 130.7,895.0 150.0,894.5 C169.3,894.0 191.0,893.2 216.0,892.5 C241.0,891.8 273.9,890.7 300.0,890.0 C326.1,889.3 347.5,888.9 372.5,888.5 C397.5,888.1 424.4,888.0 450.0,887.5 C475.6,887.0 501.0,886.9 526.0,885.6 C551.0,884.4 577.0,881.7 600.0,880.0 C623.0,878.3 642.9,877.3 664.0,875.6 C685.1,873.9 705.7,871.6 726.5,870.0 C747.3,868.4 768.2,867.0 789.0,866.0 C809.8,865.0 830.7,864.4 851.5,863.8 C872.3,863.2 891.9,862.9 914.0,862.5 C936.1,862.1 972.3,861.8 984.0,861.6" fill="none" stroke="#3a64ab" stroke-opacity="0.30" stroke-width="1.6" transform="translate(0,0.8)"/>
<g clip-path="url(#clipChart)">
<circle cx="364.0" cy="515.5" r="1.5" fill="#f3c6cf" fill-opacity="0.17"/>
<circle cx="155.5" cy="767.2" r="1.5" fill="#ffffff" fill-opacity="0.23"/>
<circle cx="463.8" cy="421.2" r="0.8" fill="#ffffff" fill-opacity="0.34"/>
<circle cx="820.8" cy="224.1" r="1.0" fill="#f3c6cf" fill-opacity="0.37"/>
<circle cx="930.5" cy="577.3" r="1.2" fill="#ffffff" fill-opacity="0.17"/>
<circle cx="112.3" cy="880.6" r="1.0" fill="#f3c6cf" fill-opacity="0.30"/>
<circle cx="177.0" cy="646.2" r="2.0" fill="#ffffff" fill-opacity="0.39"/>
<circle cx="598.1" cy="714.2" r="1.0" fill="#ffffff" fill-opacity="0.18"/>
<circle cx="582.4" cy="710.7" r="1.2" fill="#cfe3f2" fill-opacity="0.39"/>
<circle cx="775.7" cy="538.3" r="1.2" fill="#ffffff" fill-opacity="0.28"/>
<circle cx="791.3" cy="701.6" r="1.0" fill="#e8d6e6" fill-opacity="0.18"/>
<circle cx="546.9" cy="862.4" r="1.5" fill="#f3c6cf" fill-opacity="0.31"/>
<circle cx="960.0" cy="189.6" r="1.2" fill="#e8d6e6" fill-opacity="0.21"/>
<circle cx="208.0" cy="709.6" r="0.8" fill="#ffffff" fill-opacity="0.49"/>
<circle cx="764.2" cy="623.0" r="2.0" fill="#e8d6e6" fill-opacity="0.26"/>
<circle cx="609.7" cy="673.9" r="1.2" fill="#ffffff" fill-opacity="0.17"/>
<circle cx="927.8" cy="491.1" r="1.5" fill="#e8d6e6" fill-opacity="0.17"/>
<circle cx="657.6" cy="927.7" r="2.0" fill="#cfe3f2" fill-opacity="0.31"/>
<circle cx="875.4" cy="389.7" r="1.2" fill="#f3c6cf" fill-opacity="0.27"/>
<circle cx="176.3" cy="543.5" r="2.0" fill="#ffffff" fill-opacity="0.25"/>
<circle cx="431.3" cy="887.4" r="1.2" fill="#cfe3f2" fill-opacity="0.18"/>
<circle cx="434.7" cy="543.4" r="1.0" fill="#f3c6cf" fill-opacity="0.44"/>
<circle cx="322.8" cy="652.9" r="1.0" fill="#cfe3f2" fill-opacity="0.39"/>
<circle cx="939.6" cy="219.0" r="1.0" fill="#ffffff" fill-opacity="0.20"/>
<circle cx="81.0" cy="874.0" r="1.0" fill="#ffffff" fill-opacity="0.24"/>
<circle cx="202.3" cy="730.9" r="1.5" fill="#ffffff" fill-opacity="0.35"/>
<circle cx="697.0" cy="598.8" r="1.5" fill="#ffffff" fill-opacity="0.38"/>
<circle cx="484.6" cy="861.0" r="2.0" fill="#f3c6cf" fill-opacity="0.39"/>
<circle cx="426.3" cy="611.3" r="0.8" fill="#cfe3f2" fill-opacity="0.32"/>
<circle cx="126.5" cy="585.3" r="1.0" fill="#ffffff" fill-opacity="0.30"/>
<circle cx="378.8" cy="453.8" r="0.8" fill="#f3c6cf" fill-opacity="0.35"/>
<circle cx="162.1" cy="677.1" r="0.8" fill="#ffffff" fill-opacity="0.17"/>
<circle cx="627.6" cy="401.5" r="1.0" fill="#f3c6cf" fill-opacity="0.48"/>
<circle cx="400.7" cy="471.8" r="2.0" fill="#cfe3f2" fill-opacity="0.32"/>
<circle cx="506.2" cy="553.9" r="1.0" fill="#e8d6e6" fill-opacity="0.19"/>
<circle cx="742.2" cy="556.6" r="1.5" fill="#ffffff" fill-opacity="0.21"/>
<circle cx="256.3" cy="910.6" r="1.0" fill="#f3c6cf" fill-opacity="0.20"/>
<circle cx="900.0" cy="730.1" r="1.0" fill="#ffffff" fill-opacity="0.49"/>
<circle cx="702.1" cy="418.8" r="1.0" fill="#e8d6e6" fill-opacity="0.47"/>
<circle cx="770.9" cy="591.2" r="2.0" fill="#ffffff" fill-opacity="0.33"/>
<circle cx="626.8" cy="800.2" r="2.0" fill="#ffffff" fill-opacity="0.45"/>
<circle cx="813.0" cy="723.9" r="1.0" fill="#cfe3f2" fill-opacity="0.22"/>
<circle cx="392.9" cy="428.2" r="0.8" fill="#cfe3f2" fill-opacity="0.43"/>
<circle cx="305.3" cy="786.0" r="1.0" fill="#e8d6e6" fill-opacity="0.31"/>
<circle cx="937.1" cy="398.6" r="1.0" fill="#cfe3f2" fill-opacity="0.19"/>
<circle cx="248.6" cy="578.1" r="1.5" fill="#f3c6cf" fill-opacity="0.49"/>
<circle cx="833.1" cy="506.6" r="1.5" fill="#ffffff" fill-opacity="0.27"/>
<circle cx="827.9" cy="216.2" r="1.2" fill="#ffffff" fill-opacity="0.42"/>
<circle cx="504.1" cy="480.7" r="2.0" fill="#ffffff" fill-opacity="0.37"/>
<circle cx="797.1" cy="910.0" r="1.2" fill="#ffffff" fill-opacity="0.31"/>
<circle cx="728.1" cy="336.6" r="1.0" fill="#f3c6cf" fill-opacity="0.16"/>
<circle cx="891.6" cy="770.7" r="1.0" fill="#f3c6cf" fill-opacity="0.36"/>
<circle cx="960.1" cy="643.5" r="1.0" fill="#f3c6cf" fill-opacity="0.20"/>
<circle cx="188.9" cy="515.6" r="1.5" fill="#f3c6cf" fill-opacity="0.38"/>
<circle cx="750.5" cy="312.3" r="2.0" fill="#ffffff" fill-opacity="0.22"/>
<circle cx="95.4" cy="655.0" r="1.5" fill="#f3c6cf" fill-opacity="0.23"/>
<circle cx="366.0" cy="707.7" r="2.0" fill="#e8d6e6" fill-opacity="0.20"/>
<circle cx="885.1" cy="651.0" r="2.0" fill="#cfe3f2" fill-opacity="0.47"/>
<circle cx="821.0" cy="833.5" r="1.0" fill="#f3c6cf" fill-opacity="0.34"/>
<circle cx="533.6" cy="861.3" r="2.0" fill="#ffffff" fill-opacity="0.21"/>
<circle cx="774.6" cy="307.2" r="1.0" fill="#ffffff" fill-opacity="0.32"/>
<circle cx="575.3" cy="546.5" r="1.5" fill="#cfe3f2" fill-opacity="0.34"/>
<circle cx="782.1" cy="264.1" r="1.5" fill="#ffffff" fill-opacity="0.17"/>
<circle cx="321.4" cy="823.3" r="1.5" fill="#ffffff" fill-opacity="0.31"/>
<circle cx="760.1" cy="868.9" r="1.2" fill="#f3c6cf" fill-opacity="0.26"/>
<circle cx="620.4" cy="435.4" r="1.0" fill="#f3c6cf" fill-opacity="0.31"/>
<circle cx="803.1" cy="544.8" r="1.0" fill="#e8d6e6" fill-opacity="0.39"/>
<circle cx="907.9" cy="842.4" r="1.0" fill="#ffffff" fill-opacity="0.44"/>
<circle cx="448.3" cy="601.3" r="1.0" fill="#ffffff" fill-opacity="0.18"/>
<circle cx="458.9" cy="500.1" r="1.0" fill="#ffffff" fill-opacity="0.42"/>
<circle cx="923.1" cy="633.3" r="1.0" fill="#ffffff" fill-opacity="0.20"/>
<circle cx="948.5" cy="276.0" r="0.8" fill="#cfe3f2" fill-opacity="0.29"/>
<circle cx="217.8" cy="786.1" r="1.0" fill="#cfe3f2" fill-opacity="0.21"/>
<circle cx="972.6" cy="429.4" r="1.2" fill="#e8d6e6" fill-opacity="0.22"/>
<circle cx="153.7" cy="682.5" r="1.0" fill="#cfe3f2" fill-opacity="0.34"/>
<circle cx="708.5" cy="499.5" r="1.5" fill="#f3c6cf" fill-opacity="0.37"/>
<circle cx="942.4" cy="186.8" r="2.0" fill="#ffffff" fill-opacity="0.23"/>
<circle cx="146.3" cy="651.2" r="2.0" fill="#ffffff" fill-opacity="0.21"/>
<circle cx="814.4" cy="811.4" r="1.5" fill="#e8d6e6" fill-opacity="0.44"/>
<circle cx="438.6" cy="681.6" r="1.5" fill="#e8d6e6" fill-opacity="0.35"/>
<circle cx="151.2" cy="563.4" r="1.5" fill="#ffffff" fill-opacity="0.21"/>
<circle cx="314.2" cy="461.6" r="0.8" fill="#ffffff" fill-opacity="0.43"/>
<circle cx="622.2" cy="449.0" r="1.0" fill="#cfe3f2" fill-opacity="0.45"/>
<circle cx="80.5" cy="930.0" r="1.2" fill="#e8d6e6" fill-opacity="0.47"/>
<circle cx="634.5" cy="335.9" r="1.5" fill="#ffffff" fill-opacity="0.23"/>
<circle cx="950.0" cy="311.4" r="1.0" fill="#e8d6e6" fill-opacity="0.22"/>
<circle cx="640.8" cy="639.9" r="1.0" fill="#f3c6cf" fill-opacity="0.25"/>
<circle cx="680.3" cy="451.1" r="2.0" fill="#e8d6e6" fill-opacity="0.16"/>
<circle cx="103.6" cy="581.5" r="1.5" fill="#ffffff" fill-opacity="0.34"/>
<circle cx="536.9" cy="512.6" r="1.2" fill="#cfe3f2" fill-opacity="0.19"/>
<circle cx="666.1" cy="642.7" r="1.2" fill="#e8d6e6" fill-opacity="0.49"/>
<circle cx="694.5" cy="920.0" r="1.0" fill="#ffffff" fill-opacity="0.22"/>
<circle cx="437.5" cy="579.9" r="0.8" fill="#ffffff" fill-opacity="0.44"/>
<circle cx="134.2" cy="834.7" r="1.0" fill="#ffffff" fill-opacity="0.30"/>
<circle cx="146.7" cy="870.7" r="2.0" fill="#e8d6e6" fill-opacity="0.33"/>
<circle cx="613.7" cy="742.4" r="0.8" fill="#ffffff" fill-opacity="0.31"/>
<circle cx="314.3" cy="455.3" r="1.0" fill="#f3c6cf" fill-opacity="0.49"/>
<circle cx="363.8" cy="458.7" r="1.0" fill="#ffffff" fill-opacity="0.23"/>
<circle cx="71.0" cy="721.4" r="1.2" fill="#ffffff" fill-opacity="0.25"/>
<circle cx="295.3" cy="827.7" r="0.8" fill="#ffffff" fill-opacity="0.24"/>
<circle cx="200.6" cy="754.0" r="1.2" fill="#e8d6e6" fill-opacity="0.16"/>
<circle cx="641.7" cy="361.6" r="1.5" fill="#ffffff" fill-opacity="0.45"/>
<circle cx="667.0" cy="750.7" r="1.5" fill="#e8d6e6" fill-opacity="0.29"/>
<circle cx="724.4" cy="570.1" r="1.0" fill="#ffffff" fill-opacity="0.40"/>
<circle cx="109.8" cy="872.4" r="1.5" fill="#f3c6cf" fill-opacity="0.37"/>
<circle cx="196.5" cy="728.2" r="1.5" fill="#ffffff" fill-opacity="0.35"/>
<circle cx="820.4" cy="596.1" r="1.5" fill="#ffffff" fill-opacity="0.39"/>
<circle cx="147.3" cy="561.5" r="1.5" fill="#ffffff" fill-opacity="0.28"/>
<circle cx="412.0" cy="642.6" r="0.8" fill="#f3c6cf" fill-opacity="0.37"/>
<circle cx="688.0" cy="588.0" r="0.8" fill="#ffffff" fill-opacity="0.31"/>
<circle cx="749.4" cy="574.1" r="1.5" fill="#f3c6cf" fill-opacity="0.18"/>
<circle cx="130.0" cy="833.7" r="1.0" fill="#e8d6e6" fill-opacity="0.43"/>
<circle cx="283.2" cy="821.0" r="1.0" fill="#cfe3f2" fill-opacity="0.41"/>
<circle cx="518.5" cy="592.2" r="1.2" fill="#e8d6e6" fill-opacity="0.47"/>
<circle cx="766.4" cy="654.4" r="1.5" fill="#f3c6cf" fill-opacity="0.22"/>
<circle cx="203.9" cy="608.8" r="1.5" fill="#f3c6cf" fill-opacity="0.39"/>
<circle cx="585.5" cy="354.4" r="0.8" fill="#ffffff" fill-opacity="0.32"/>
<circle cx="698.5" cy="708.3" r="1.0" fill="#e8d6e6" fill-opacity="0.40"/>
<circle cx="491.9" cy="638.6" r="0.8" fill="#f3c6cf" fill-opacity="0.50"/>
<circle cx="250.9" cy="922.3" r="1.2" fill="#cfe3f2" fill-opacity="0.16"/>
<circle cx="139.4" cy="745.4" r="1.2" fill="#cfe3f2" fill-opacity="0.50"/>
<circle cx="260.5" cy="907.8" r="1.0" fill="#ffffff" fill-opacity="0.18"/>
<circle cx="198.7" cy="727.6" r="1.0" fill="#f3c6cf" fill-opacity="0.20"/>
<circle cx="323.8" cy="508.6" r="1.0" fill="#cfe3f2" fill-opacity="0.23"/>
<circle cx="427.8" cy="482.6" r="1.2" fill="#cfe3f2" fill-opacity="0.39"/>
<circle cx="344.2" cy="524.6" r="1.0" fill="#ffffff" fill-opacity="0.28"/>
<circle cx="832.9" cy="116.2" r="2.0" fill="#cfe3f2" fill-opacity="0.27"/>
<circle cx="179.0" cy="901.4" r="1.5" fill="#e8d6e6" fill-opacity="0.15"/>
<circle cx="299.9" cy="492.4" r="1.2" fill="#f3c6cf" fill-opacity="0.50"/>
<circle cx="139.4" cy="903.8" r="2.0" fill="#ffffff" fill-opacity="0.25"/>
<circle cx="324.8" cy="479.6" r="1.5" fill="#ffffff" fill-opacity="0.25"/>
<circle cx="296.4" cy="589.0" r="1.5" fill="#e8d6e6" fill-opacity="0.26"/>
<circle cx="782.9" cy="503.5" r="0.8" fill="#cfe3f2" fill-opacity="0.43"/>
<circle cx="899.4" cy="882.5" r="1.5" fill="#ffffff" fill-opacity="0.22"/>
<circle cx="114.9" cy="834.2" r="1.2" fill="#ffffff" fill-opacity="0.37"/>
<circle cx="655.2" cy="484.2" r="0.8" fill="#f3c6cf" fill-opacity="0.47"/>
<circle cx="185.6" cy="710.3" r="1.0" fill="#e8d6e6" fill-opacity="0.25"/>
<circle cx="741.0" cy="914.9" r="1.0" fill="#ffffff" fill-opacity="0.29"/>
<circle cx="343.2" cy="722.5" r="1.2" fill="#ffffff" fill-opacity="0.19"/>
<circle cx="138.3" cy="743.4" r="2.0" fill="#ffffff" fill-opacity="0.32"/>
<circle cx="481.3" cy="565.1" r="2.0" fill="#ffffff" fill-opacity="0.31"/>
<circle cx="567.4" cy="504.4" r="1.0" fill="#ffffff" fill-opacity="0.27"/>
<circle cx="359.9" cy="624.6" r="2.0" fill="#ffffff" fill-opacity="0.35"/>
<circle cx="750.7" cy="509.2" r="1.2" fill="#ffffff" fill-opacity="0.41"/>
<circle cx="412.2" cy="582.9" r="0.8" fill="#f3c6cf" fill-opacity="0.32"/>
<circle cx="948.7" cy="197.2" r="1.5" fill="#ffffff" fill-opacity="0.34"/>
<circle cx="154.1" cy="891.4" r="1.2" fill="#cfe3f2" fill-opacity="0.29"/>
<circle cx="462.1" cy="554.2" r="2.0" fill="#ffffff" fill-opacity="0.46"/>
<circle cx="185.5" cy="690.6" r="2.0" fill="#cfe3f2" fill-opacity="0.46"/>
<circle cx="949.2" cy="503.1" r="0.8" fill="#f3c6cf" fill-opacity="0.29"/>
<circle cx="846.8" cy="909.2" r="1.0" fill="#ffffff" fill-opacity="0.42"/>
<circle cx="210.2" cy="723.7" r="1.5" fill="#cfe3f2" fill-opacity="0.19"/>
<circle cx="147.2" cy="845.7" r="0.8" fill="#ffffff" fill-opacity="0.42"/>
<circle cx="587.0" cy="367.3" r="1.5" fill="#ffffff" fill-opacity="0.26"/>
<circle cx="638.8" cy="638.1" r="1.2" fill="#ffffff" fill-opacity="0.39"/>
<circle cx="160.3" cy="652.8" r="1.5" fill="#e8d6e6" fill-opacity="0.22"/>
<circle cx="273.0" cy="753.2" r="0.8" fill="#cfe3f2" fill-opacity="0.34"/>
<circle cx="323.0" cy="605.7" r="2.0" fill="#cfe3f2" fill-opacity="0.46"/>
<circle cx="547.9" cy="679.3" r="0.8" fill="#e8d6e6" fill-opacity="0.49"/>
<circle cx="120.2" cy="634.9" r="1.5" fill="#ffffff" fill-opacity="0.38"/>
<circle cx="303.6" cy="774.5" r="1.0" fill="#ffffff" fill-opacity="0.23"/>
<circle cx="701.8" cy="736.5" r="1.0" fill="#ffffff" fill-opacity="0.39"/>
<circle cx="76.1" cy="690.0" r="2.0" fill="#ffffff" fill-opacity="0.33"/>
<circle cx="520.1" cy="491.9" r="2.0" fill="#ffffff" fill-opacity="0.44"/>
<circle cx="492.3" cy="527.9" r="1.0" fill="#f3c6cf" fill-opacity="0.19"/>
<circle cx="520.2" cy="484.7" r="1.0" fill="#ffffff" fill-opacity="0.32"/>
<circle cx="931.5" cy="215.9" r="1.2" fill="#ffffff" fill-opacity="0.17"/>
<circle cx="954.5" cy="210.2" r="0.8" fill="#ffffff" fill-opacity="0.40"/>
<circle cx="427.1" cy="877.6" r="1.0" fill="#ffffff" fill-opacity="0.41"/>
<circle cx="915.9" cy="370.7" r="1.0" fill="#f3c6cf" fill-opacity="0.38"/>
<circle cx="747.6" cy="235.0" r="1.5" fill="#e8d6e6" fill-opacity="0.40"/>
<circle cx="964.4" cy="462.4" r="0.8" fill="#e8d6e6" fill-opacity="0.15"/>
<circle cx="143.3" cy="710.4" r="0.8" fill="#ffffff" fill-opacity="0.35"/>
<circle cx="415.2" cy="809.8" r="1.0" fill="#cfe3f2" fill-opacity="0.44"/>
<circle cx="149.7" cy="817.2" r="1.0" fill="#cfe3f2" fill-opacity="0.28"/>
<circle cx="245.3" cy="649.3" r="1.2" fill="#cfe3f2" fill-opacity="0.16"/>
<circle cx="295.2" cy="757.4" r="1.2" fill="#ffffff" fill-opacity="0.16"/>
<circle cx="491.4" cy="823.9" r="0.8" fill="#ffffff" fill-opacity="0.24"/>
<circle cx="885.9" cy="381.7" r="1.0" fill="#f3c6cf" fill-opacity="0.27"/>
<circle cx="109.6" cy="840.4" r="1.5" fill="#e8d6e6" fill-opacity="0.26"/>
<circle cx="340.0" cy="800.9" r="1.5" fill="#ffffff" fill-opacity="0.47"/>
<circle cx="92.0" cy="663.9" r="1.2" fill="#cfe3f2" fill-opacity="0.40"/>
<circle cx="936.2" cy="417.0" r="1.0" fill="#cfe3f2" fill-opacity="0.47"/>
<circle cx="190.5" cy="718.8" r="0.8" fill="#e8d6e6" fill-opacity="0.43"/>
<circle cx="817.1" cy="749.1" r="1.5" fill="#e8d6e6" fill-opacity="0.23"/>
<circle cx="488.4" cy="813.1" r="1.5" fill="#ffffff" fill-opacity="0.18"/>
<circle cx="425.7" cy="484.1" r="1.2" fill="#ffffff" fill-opacity="0.17"/>
<circle cx="507.4" cy="681.7" r="1.0" fill="#ffffff" fill-opacity="0.49"/>
<circle cx="966.9" cy="312.7" r="0.8" fill="#cfe3f2" fill-opacity="0.22"/>
<circle cx="522.6" cy="771.7" r="1.2" fill="#ffffff" fill-opacity="0.21"/>
<circle cx="448.5" cy="725.3" r="1.5" fill="#f3c6cf" fill-opacity="0.23"/>
<circle cx="839.1" cy="656.9" r="0.8" fill="#e8d6e6" fill-opacity="0.42"/>
<circle cx="336.8" cy="727.4" r="1.0" fill="#e8d6e6" fill-opacity="0.24"/>
<circle cx="250.9" cy="597.2" r="1.0" fill="#e8d6e6" fill-opacity="0.23"/>
<circle cx="872.8" cy="582.0" r="1.0" fill="#e8d6e6" fill-opacity="0.17"/>
<circle cx="971.1" cy="516.8" r="1.0" fill="#ffffff" fill-opacity="0.38"/>
<circle cx="663.2" cy="926.3" r="0.8" fill="#ffffff" fill-opacity="0.15"/>
<circle cx="833.2" cy="862.0" r="0.8" fill="#ffffff" fill-opacity="0.46"/>
<circle cx="178.2" cy="596.1" r="2.0" fill="#ffffff" fill-opacity="0.35"/>
<circle cx="408.0" cy="861.5" r="1.2" fill="#ffffff" fill-opacity="0.36"/>
<circle cx="166.0" cy="768.9" r="1.5" fill="#ffffff" fill-opacity="0.27"/>
<circle cx="404.8" cy="480.6" r="1.0" fill="#ffffff" fill-opacity="0.50"/>
<circle cx="614.3" cy="717.0" r="1.0" fill="#e8d6e6" fill-opacity="0.44"/>
<circle cx="441.4" cy="591.9" r="1.5" fill="#ffffff" fill-opacity="0.26"/>
<circle cx="98.6" cy="753.6" r="1.2" fill="#ffffff" fill-opacity="0.17"/>
<circle cx="792.6" cy="673.9" r="1.0" fill="#ffffff" fill-opacity="0.37"/>
<circle cx="663.0" cy="551.1" r="1.0" fill="#e8d6e6" fill-opacity="0.29"/>
<circle cx="676.4" cy="552.4" r="0.8" fill="#f3c6cf" fill-opacity="0.26"/>
<circle cx="872.4" cy="445.8" r="0.8" fill="#e8d6e6" fill-opacity="0.45"/>
<circle cx="655.2" cy="549.8" r="1.2" fill="#ffffff" fill-opacity="0.22"/>
<circle cx="464.2" cy="468.8" r="0.8" fill="#cfe3f2" fill-opacity="0.44"/>
<circle cx="594.6" cy="552.1" r="2.0" fill="#ffffff" fill-opacity="0.21"/>
<circle cx="116.9" cy="617.5" r="2.0" fill="#ffffff" fill-opacity="0.47"/>
<circle cx="590.2" cy="889.0" r="1.5" fill="#ffffff" fill-opacity="0.33"/>
<circle cx="385.9" cy="502.9" r="1.0" fill="#ffffff" fill-opacity="0.47"/>
<circle cx="418.4" cy="801.6" r="2.0" fill="#ffffff" fill-opacity="0.49"/>
<circle cx="343.9" cy="854.9" r="0.8" fill="#cfe3f2" fill-opacity="0.49"/>
<circle cx="355.6" cy="742.7" r="1.5" fill="#f3c6cf" fill-opacity="0.29"/>
<circle cx="694.9" cy="857.4" r="1.5" fill="#ffffff" fill-opacity="0.43"/>
<circle cx="633.9" cy="692.0" r="1.0" fill="#ffffff" fill-opacity="0.44"/>
<circle cx="583.4" cy="374.1" r="1.5" fill="#e8d6e6" fill-opacity="0.20"/>
<circle cx="181.7" cy="617.8" r="1.5" fill="#ffffff" fill-opacity="0.44"/>
<circle cx="107.3" cy="774.5" r="2.0" fill="#e8d6e6" fill-opacity="0.39"/>
<circle cx="176.9" cy="766.5" r="1.5" fill="#e8d6e6" fill-opacity="0.45"/>
<circle cx="659.3" cy="496.5" r="1.0" fill="#e8d6e6" fill-opacity="0.30"/>
<circle cx="475.7" cy="623.3" r="0.8" fill="#cfe3f2" fill-opacity="0.15"/>
<circle cx="492.5" cy="627.9" r="1.5" fill="#cfe3f2" fill-opacity="0.42"/>
<circle cx="829.6" cy="777.7" r="1.2" fill="#ffffff" fill-opacity="0.19"/>
<circle cx="395.6" cy="601.0" r="2.0" fill="#f3c6cf" fill-opacity="0.30"/>
<circle cx="666.6" cy="320.1" r="1.0" fill="#e8d6e6" fill-opacity="0.18"/>
<circle cx="776.1" cy="571.8" r="0.8" fill="#cfe3f2" fill-opacity="0.41"/>
<circle cx="662.7" cy="795.6" r="0.8" fill="#f3c6cf" fill-opacity="0.45"/>
<circle cx="734.7" cy="798.8" r="1.0" fill="#cfe3f2" fill-opacity="0.20"/>
<circle cx="331.4" cy="842.3" r="2.0" fill="#ffffff" fill-opacity="0.21"/>
<circle cx="129.5" cy="689.7" r="2.0" fill="#e8d6e6" fill-opacity="0.24"/>
<circle cx="884.1" cy="328.6" r="2.0" fill="#e8d6e6" fill-opacity="0.31"/>
<circle cx="526.0" cy="887.5" r="1.0" fill="#f3c6cf" fill-opacity="0.36"/>
<circle cx="529.5" cy="553.4" r="0.8" fill="#cfe3f2" fill-opacity="0.22"/>
<circle cx="216.4" cy="904.1" r="1.5" fill="#cfe3f2" fill-opacity="0.26"/>
<circle cx="223.2" cy="837.1" r="0.8" fill="#ffffff" fill-opacity="0.42"/>
<circle cx="647.8" cy="532.9" r="2.0" fill="#f3c6cf" fill-opacity="0.31"/>
<circle cx="596.7" cy="861.4" r="0.8" fill="#f3c6cf" fill-opacity="0.24"/>
<circle cx="641.8" cy="554.6" r="2.0" fill="#cfe3f2" fill-opacity="0.28"/>
<circle cx="969.4" cy="575.9" r="1.0" fill="#ffffff" fill-opacity="0.27"/>
<circle cx="471.6" cy="479.6" r="1.5" fill="#e8d6e6" fill-opacity="0.49"/>
<circle cx="814.4" cy="333.6" r="1.5" fill="#f3c6cf" fill-opacity="0.49"/>
<circle cx="913.0" cy="844.8" r="1.5" fill="#ffffff" fill-opacity="0.15"/>
<circle cx="271.2" cy="615.1" r="1.5" fill="#f3c6cf" fill-opacity="0.30"/>
<circle cx="400.6" cy="432.4" r="1.2" fill="#ffffff" fill-opacity="0.23"/>
<circle cx="90.2" cy="584.0" r="1.0" fill="#f3c6cf" fill-opacity="0.26"/>
<circle cx="394.3" cy="528.4" r="1.5" fill="#ffffff" fill-opacity="0.26"/>
<circle cx="255.4" cy="764.6" r="1.2" fill="#ffffff" fill-opacity="0.21"/>
<circle cx="920.4" cy="298.6" r="1.0" fill="#ffffff" fill-opacity="0.31"/>
<circle cx="649.5" cy="851.6" r="2.0" fill="#e8d6e6" fill-opacity="0.24"/>
<circle cx="948.2" cy="138.6" r="2.0" fill="#e8d6e6" fill-opacity="0.35"/>
<circle cx="610.0" cy="672.9" r="1.5" fill="#cfe3f2" fill-opacity="0.48"/>
<circle cx="295.6" cy="887.0" r="0.8" fill="#ffffff" fill-opacity="0.17"/>
<circle cx="438.6" cy="520.1" r="0.8" fill="#ffffff" fill-opacity="0.47"/>
<circle cx="81.2" cy="777.7" r="1.0" fill="#ffffff" fill-opacity="0.20"/>
<circle cx="540.6" cy="733.3" r="1.5" fill="#f3c6cf" fill-opacity="0.37"/>
<circle cx="228.6" cy="625.8" r="1.0" fill="#cfe3f2" fill-opacity="0.37"/>
<circle cx="719.6" cy="223.7" r="2.0" fill="#cfe3f2" fill-opacity="0.30"/>
<circle cx="143.1" cy="800.4" r="1.0" fill="#ffffff" fill-opacity="0.23"/>
<circle cx="307.4" cy="762.3" r="0.8" fill="#e8d6e6" fill-opacity="0.27"/>
<circle cx="716.2" cy="410.7" r="1.5" fill="#f3c6cf" fill-opacity="0.39"/>
<circle cx="952.5" cy="339.6" r="1.0" fill="#f3c6cf" fill-opacity="0.18"/>
<circle cx="83.8" cy="676.7" r="1.0" fill="#ffffff" fill-opacity="0.44"/>
<circle cx="927.8" cy="719.2" r="1.0" fill="#cfe3f2" fill-opacity="0.22"/>
<circle cx="368.3" cy="555.8" r="2.0" fill="#f3c6cf" fill-opacity="0.37"/>
<circle cx="496.3" cy="843.9" r="1.5" fill="#ffffff" fill-opacity="0.15"/>
<circle cx="467.0" cy="780.7" r="1.5" fill="#ffffff" fill-opacity="0.46"/>
<circle cx="425.5" cy="710.9" r="1.5" fill="#ffffff" fill-opacity="0.47"/>
<circle cx="99.9" cy="617.2" r="1.5" fill="#e8d6e6" fill-opacity="0.48"/>
<circle cx="957.5" cy="680.2" r="0.8" fill="#ffffff" fill-opacity="0.16"/>
<circle cx="702.9" cy="748.9" r="0.8" fill="#e8d6e6" fill-opacity="0.45"/>
<circle cx="251.0" cy="911.8" r="1.5" fill="#ffffff" fill-opacity="0.46"/>
<circle cx="868.8" cy="729.5" r="1.5" fill="#ffffff" fill-opacity="0.48"/>
<circle cx="293.9" cy="561.5" r="0.8" fill="#ffffff" fill-opacity="0.16"/>
<circle cx="819.2" cy="634.8" r="1.0" fill="#ffffff" fill-opacity="0.32"/>
<circle cx="158.9" cy="835.5" r="1.0" fill="#e8d6e6" fill-opacity="0.25"/>
<circle cx="454.8" cy="396.6" r="1.0" fill="#ffffff" fill-opacity="0.48"/>
<circle cx="719.9" cy="481.4" r="1.0" fill="#f3c6cf" fill-opacity="0.42"/>
<circle cx="527.4" cy="849.4" r="1.5" fill="#cfe3f2" fill-opacity="0.41"/>
<circle cx="98.4" cy="761.8" r="0.8" fill="#ffffff" fill-opacity="0.27"/>
<circle cx="558.4" cy="493.1" r="2.0" fill="#f3c6cf" fill-opacity="0.44"/>
<circle cx="814.4" cy="266.9" r="0.8" fill="#e8d6e6" fill-opacity="0.33"/>
<circle cx="762.1" cy="916.0" r="0.8" fill="#ffffff" fill-opacity="0.27"/>
<circle cx="516.3" cy="820.2" r="1.0" fill="#f3c6cf" fill-opacity="0.49"/>
<circle cx="385.2" cy="846.0" r="1.0" fill="#ffffff" fill-opacity="0.35"/>
<circle cx="327.6" cy="558.2" r="1.5" fill="#ffffff" fill-opacity="0.23"/>
<circle cx="169.8" cy="784.0" r="0.8" fill="#f3c6cf" fill-opacity="0.32"/>
<circle cx="784.5" cy="652.2" r="1.0" fill="#cfe3f2" fill-opacity="0.18"/>
<circle cx="879.8" cy="720.2" r="1.2" fill="#ffffff" fill-opacity="0.46"/>
<circle cx="407.7" cy="565.2" r="1.2" fill="#f3c6cf" fill-opacity="0.47"/>
<circle cx="225.4" cy="924.2" r="1.5" fill="#cfe3f2" fill-opacity="0.23"/>
<circle cx="185.2" cy="761.6" r="1.5" fill="#ffffff" fill-opacity="0.41"/>
<circle cx="386.4" cy="587.0" r="1.0" fill="#cfe3f2" fill-opacity="0.45"/>
<circle cx="671.2" cy="765.7" r="1.0" fill="#e8d6e6" fill-opacity="0.31"/>
<circle cx="595.9" cy="407.8" r="1.2" fill="#ffffff" fill-opacity="0.37"/>
<circle cx="531.0" cy="524.7" r="2.0" fill="#f3c6cf" fill-opacity="0.40"/>
<circle cx="210.4" cy="563.9" r="1.0" fill="#f3c6cf" fill-opacity="0.40"/>
<circle cx="544.1" cy="464.7" r="1.0" fill="#e8d6e6" fill-opacity="0.48"/>
<circle cx="955.4" cy="703.8" r="0.8" fill="#ffffff" fill-opacity="0.21"/>
<circle cx="247.5" cy="554.4" r="1.0" fill="#e8d6e6" fill-opacity="0.43"/>
<circle cx="464.9" cy="490.5" r="1.5" fill="#e8d6e6" fill-opacity="0.47"/>
<circle cx="257.5" cy="659.7" r="0.8" fill="#cfe3f2" fill-opacity="0.15"/>
<circle cx="699.6" cy="586.7" r="1.5" fill="#ffffff" fill-opacity="0.25"/>
<circle cx="198.8" cy="761.8" r="1.2" fill="#ffffff" fill-opacity="0.15"/>
<circle cx="894.5" cy="456.7" r="1.5" fill="#cfe3f2" fill-opacity="0.36"/>
<circle cx="838.2" cy="659.8" r="1.5" fill="#f3c6cf" fill-opacity="0.46"/>
<circle cx="844.0" cy="668.7" r="1.5" fill="#cfe3f2" fill-opacity="0.19"/>
<circle cx="354.2" cy="753.0" r="0.8" fill="#ffffff" fill-opacity="0.46"/>
<circle cx="780.4" cy="718.6" r="1.5" fill="#cfe3f2" fill-opacity="0.20"/>
<circle cx="508.3" cy="393.2" r="2.0" fill="#ffffff" fill-opacity="0.29"/>
<circle cx="882.2" cy="373.0" r="0.8" fill="#cfe3f2" fill-opacity="0.29"/>
<circle cx="894.6" cy="186.8" r="1.0" fill="#ffffff" fill-opacity="0.34"/>
<circle cx="720.3" cy="897.3" r="1.0" fill="#ffffff" fill-opacity="0.33"/>
<circle cx="839.2" cy="486.6" r="1.0" fill="#f3c6cf" fill-opacity="0.40"/>
<circle cx="84.6" cy="860.3" r="1.0" fill="#cfe3f2" fill-opacity="0.33"/>
<circle cx="743.8" cy="541.0" r="1.5" fill="#f3c6cf" fill-opacity="0.21"/>
<circle cx="762.5" cy="297.7" r="1.5" fill="#ffffff" fill-opacity="0.27"/>
<circle cx="299.2" cy="641.7" r="0.8" fill="#cfe3f2" fill-opacity="0.15"/>
<circle cx="901.2" cy="621.9" r="1.5" fill="#e8d6e6" fill-opacity="0.27"/>
<circle cx="169.2" cy="648.8" r="1.2" fill="#f3c6cf" fill-opacity="0.48"/>
<circle cx="952.1" cy="927.1" r="1.2" fill="#ffffff" fill-opacity="0.31"/>
<circle cx="187.4" cy="837.9" r="2.0" fill="#ffffff" fill-opacity="0.43"/>
<circle cx="496.0" cy="691.3" r="1.0" fill="#ffffff" fill-opacity="0.44"/>
<circle cx="390.6" cy="745.4" r="2.0" fill="#cfe3f2" fill-opacity="0.43"/>
<circle cx="495.0" cy="544.1" r="1.5" fill="#cfe3f2" fill-opacity="0.38"/>
<circle cx="392.1" cy="854.6" r="1.0" fill="#e8d6e6" fill-opacity="0.40"/>
<circle cx="962.5" cy="661.6" r="1.2" fill="#e8d6e6" fill-opacity="0.15"/>
<circle cx="395.0" cy="751.9" r="1.0" fill="#cfe3f2" fill-opacity="0.32"/>
<circle cx="636.0" cy="362.2" r="1.0" fill="#e8d6e6" fill-opacity="0.20"/>
<circle cx="845.8" cy="156.5" r="2.0" fill="#e8d6e6" fill-opacity="0.35"/>
<circle cx="781.9" cy="290.0" r="2.0" fill="#f3c6cf" fill-opacity="0.27"/>
<circle cx="83.6" cy="590.9" r="0.8" fill="#e8d6e6" fill-opacity="0.38"/>
<circle cx="622.2" cy="670.2" r="2.0" fill="#cfe3f2" fill-opacity="0.23"/>
<circle cx="384.6" cy="499.4" r="1.2" fill="#ffffff" fill-opacity="0.43"/>
<circle cx="623.4" cy="738.0" r="2.0" fill="#f3c6cf" fill-opacity="0.18"/>
<circle cx="785.6" cy="810.4" r="1.0" fill="#ffffff" fill-opacity="0.32"/>
<circle cx="552.0" cy="787.8" r="1.2" fill="#ffffff" fill-opacity="0.38"/>
<circle cx="574.0" cy="512.6" r="1.0" fill="#cfe3f2" fill-opacity="0.44"/>
<circle cx="517.7" cy="413.9" r="1.2" fill="#cfe3f2" fill-opacity="0.47"/>
<circle cx="293.9" cy="543.6" r="1.5" fill="#ffffff" fill-opacity="0.45"/>
<circle cx="215.6" cy="634.3" r="1.5" fill="#e8d6e6" fill-opacity="0.35"/>
<circle cx="833.2" cy="421.1" r="1.2" fill="#ffffff" fill-opacity="0.50"/>
<circle cx="233.9" cy="647.9" r="1.5" fill="#f3c6cf" fill-opacity="0.16"/>
<circle cx="111.7" cy="836.4" r="1.0" fill="#ffffff" fill-opacity="0.43"/>
<circle cx="533.6" cy="645.5" r="1.0" fill="#cfe3f2" fill-opacity="0.16"/>
<circle cx="637.8" cy="520.0" r="2.0" fill="#e8d6e6" fill-opacity="0.38"/>
<circle cx="500.9" cy="671.3" r="2.0" fill="#e8d6e6" fill-opacity="0.47"/>
<circle cx="465.2" cy="614.8" r="1.5" fill="#e8d6e6" fill-opacity="0.17"/>
<circle cx="335.9" cy="850.6" r="1.2" fill="#e8d6e6" fill-opacity="0.27"/>
<circle cx="862.7" cy="389.5" r="1.0" fill="#ffffff" fill-opacity="0.38"/>
<circle cx="370.5" cy="593.0" r="1.0" fill="#ffffff" fill-opacity="0.19"/>
<circle cx="782.1" cy="214.8" r="1.5" fill="#cfe3f2" fill-opacity="0.34"/>
<circle cx="565.2" cy="395.7" r="1.0" fill="#ffffff" fill-opacity="0.19"/>
<circle cx="242.5" cy="897.1" r="1.5" fill="#ffffff" fill-opacity="0.42"/>
<circle cx="786.4" cy="863.8" r="1.5" fill="#ffffff" fill-opacity="0.28"/>
<circle cx="639.1" cy="742.9" r="1.5" fill="#ffffff" fill-opacity="0.46"/>
<circle cx="263.0" cy="783.6" r="1.2" fill="#ffffff" fill-opacity="0.37"/>
<circle cx="162.0" cy="604.1" r="0.8" fill="#ffffff" fill-opacity="0.30"/>
<circle cx="900.0" cy="644.6" r="1.0" fill="#ffffff" fill-opacity="0.46"/>
<circle cx="784.2" cy="603.0" r="1.0" fill="#ffffff" fill-opacity="0.45"/>
<circle cx="453.0" cy="559.8" r="1.2" fill="#f3c6cf" fill-opacity="0.35"/>
<circle cx="917.9" cy="140.6" r="1.5" fill="#ffffff" fill-opacity="0.33"/>
<circle cx="772.6" cy="508.4" r="1.5" fill="#cfe3f2" fill-opacity="0.47"/>
<circle cx="131.0" cy="812.3" r="1.5" fill="#ffffff" fill-opacity="0.36"/>
<circle cx="501.7" cy="609.1" r="0.8" fill="#cfe3f2" fill-opacity="0.18"/>
<circle cx="262.7" cy="554.1" r="0.8" fill="#ffffff" fill-opacity="0.30"/>
<circle cx="690.9" cy="335.7" r="2.0" fill="#ffffff" fill-opacity="0.18"/>
<circle cx="187.1" cy="518.4" r="1.5" fill="#cfe3f2" fill-opacity="0.35"/>
<circle cx="736.1" cy="346.9" r="0.8" fill="#ffffff" fill-opacity="0.28"/>
<circle cx="732.6" cy="272.9" r="1.5" fill="#cfe3f2" fill-opacity="0.35"/>
<circle cx="488.2" cy="894.8" r="1.0" fill="#ffffff" fill-opacity="0.47"/>
<circle cx="721.2" cy="226.4" r="0.8" fill="#f3c6cf" fill-opacity="0.46"/>
<circle cx="142.3" cy="669.4" r="1.5" fill="#cfe3f2" fill-opacity="0.36"/>
<circle cx="622.9" cy="507.1" r="1.5" fill="#cfe3f2" fill-opacity="0.40"/>
<circle cx="684.6" cy="361.5" r="2.0" fill="#ffffff" fill-opacity="0.19"/>
<circle cx="641.8" cy="569.4" r="1.2" fill="#cfe3f2" fill-opacity="0.42"/>
<circle cx="928.0" cy="751.4" r="1.5" fill="#e8d6e6" fill-opacity="0.27"/>
<circle cx="125.1" cy="922.3" r="1.5" fill="#f3c6cf" fill-opacity="0.43"/>
<circle cx="371.5" cy="735.9" r="0.8" fill="#f3c6cf" fill-opacity="0.44"/>
<circle cx="826.0" cy="594.8" r="1.0" fill="#cfe3f2" fill-opacity="0.28"/>
<circle cx="616.4" cy="867.8" r="2.0" fill="#ffffff" fill-opacity="0.31"/>
<circle cx="361.9" cy="574.4" r="1.0" fill="#ffffff" fill-opacity="0.36"/>
<circle cx="332.0" cy="524.5" r="2.0" fill="#ffffff" fill-opacity="0.50"/>
<circle cx="318.7" cy="860.9" r="2.0" fill="#cfe3f2" fill-opacity="0.34"/>
<circle cx="384.9" cy="464.5" r="1.5" fill="#cfe3f2" fill-opacity="0.32"/>
<circle cx="252.0" cy="820.9" r="1.0" fill="#ffffff" fill-opacity="0.26"/>
<circle cx="685.3" cy="574.6" r="1.0" fill="#f3c6cf" fill-opacity="0.47"/>
<circle cx="752.0" cy="782.0" r="1.2" fill="#f3c6cf" fill-opacity="0.34"/>
<circle cx="802.4" cy="753.1" r="1.0" fill="#f3c6cf" fill-opacity="0.29"/>
<circle cx="884.4" cy="836.4" r="1.5" fill="#f3c6cf" fill-opacity="0.26"/>
<circle cx="605.1" cy="437.1" r="1.0" fill="#e8d6e6" fill-opacity="0.18"/>
<circle cx="399.4" cy="703.6" r="1.2" fill="#ffffff" fill-opacity="0.42"/>
<circle cx="293.6" cy="896.0" r="1.2" fill="#ffffff" fill-opacity="0.28"/>
<circle cx="407.5" cy="649.6" r="0.8" fill="#f3c6cf" fill-opacity="0.20"/>
<circle cx="97.6" cy="678.0" r="1.5" fill="#ffffff" fill-opacity="0.16"/>
<circle cx="255.8" cy="874.5" r="1.5" fill="#f3c6cf" fill-opacity="0.32"/>
<circle cx="263.9" cy="898.8" r="1.0" fill="#cfe3f2" fill-opacity="0.30"/>
<circle cx="766.7" cy="800.7" r="1.0" fill="#ffffff" fill-opacity="0.24"/>
<circle cx="377.7" cy="929.3" r="1.2" fill="#ffffff" fill-opacity="0.18"/>
<circle cx="101.6" cy="707.8" r="1.5" fill="#ffffff" fill-opacity="0.31"/>
<circle cx="853.6" cy="634.7" r="0.8" fill="#ffffff" fill-opacity="0.40"/>
<circle cx="303.5" cy="725.8" r="1.5" fill="#f3c6cf" fill-opacity="0.18"/>
<circle cx="427.0" cy="637.5" r="1.0" fill="#ffffff" fill-opacity="0.28"/>
<circle cx="970.5" cy="276.1" r="0.8" fill="#e8d6e6" fill-opacity="0.48"/>
<circle cx="123.8" cy="766.4" r="0.8" fill="#ffffff" fill-opacity="0.44"/>
<circle cx="304.2" cy="701.4" r="1.5" fill="#cfe3f2" fill-opacity="0.38"/>
<circle cx="120.6" cy="616.6" r="2.0" fill="#ffffff" fill-opacity="0.15"/>
<circle cx="684.6" cy="464.1" r="1.5" fill="#ffffff" fill-opacity="0.30"/>
<circle cx="497.4" cy="586.7" r="1.2" fill="#cfe3f2" fill-opacity="0.19"/>
<circle cx="414.7" cy="637.0" r="2.0" fill="#ffffff" fill-opacity="0.20"/>
<circle cx="494.9" cy="883.9" r="2.0" fill="#ffffff" fill-opacity="0.16"/>
<circle cx="140.6" cy="787.4" r="1.0" fill="#ffffff" fill-opacity="0.46"/>
<circle cx="776.7" cy="901.0" r="1.2" fill="#ffffff" fill-opacity="0.44"/>
<circle cx="480.7" cy="569.0" r="2.0" fill="#ffffff" fill-opacity="0.23"/>
<circle cx="640.4" cy="397.9" r="1.0" fill="#ffffff" fill-opacity="0.41"/>
<circle cx="718.1" cy="614.0" r="1.0" fill="#ffffff" fill-opacity="0.30"/>
<circle cx="895.2" cy="261.1" r="0.7" fill="#d99aa0" fill-opacity="0.21"/>
<circle cx="865.9" cy="198.7" r="0.7" fill="#d99aa0" fill-opacity="0.28"/>
<circle cx="938.4" cy="246.5" r="0.9" fill="#d99aa0" fill-opacity="0.23"/>
<circle cx="915.3" cy="212.9" r="1.1" fill="#d99aa0" fill-opacity="0.48"/>
<circle cx="820.5" cy="183.6" r="0.7" fill="#d99aa0" fill-opacity="0.28"/>
<circle cx="912.8" cy="255.9" r="0.9" fill="#d99aa0" fill-opacity="0.50"/>
<circle cx="918.2" cy="205.8" r="0.9" fill="#d99aa0" fill-opacity="0.32"/>
<circle cx="924.9" cy="211.6" r="1.1" fill="#d99aa0" fill-opacity="0.20"/>
<circle cx="914.4" cy="176.5" r="0.7" fill="#d99aa0" fill-opacity="0.33"/>
<circle cx="926.6" cy="110.4" r="0.9" fill="#d99aa0" fill-opacity="0.26"/>
<circle cx="808.9" cy="254.3" r="0.7" fill="#d99aa0" fill-opacity="0.28"/>
<circle cx="867.7" cy="210.6" r="0.7" fill="#d99aa0" fill-opacity="0.26"/>
<circle cx="916.9" cy="224.2" r="1.1" fill="#d99aa0" fill-opacity="0.42"/>
<circle cx="902.0" cy="187.1" r="0.7" fill="#d99aa0" fill-opacity="0.38"/>
<circle cx="878.4" cy="135.7" r="1.1" fill="#d99aa0" fill-opacity="0.29"/>
<circle cx="968.9" cy="219.4" r="1.1" fill="#d99aa0" fill-opacity="0.32"/>
<circle cx="897.3" cy="200.1" r="0.9" fill="#d99aa0" fill-opacity="0.30"/>
<circle cx="949.1" cy="139.6" r="0.9" fill="#d99aa0" fill-opacity="0.23"/>
<circle cx="835.7" cy="256.1" r="0.7" fill="#d99aa0" fill-opacity="0.46"/>
<circle cx="897.1" cy="243.7" r="0.9" fill="#d99aa0" fill-opacity="0.21"/>
<circle cx="882.6" cy="158.8" r="0.7" fill="#d99aa0" fill-opacity="0.31"/>
<circle cx="938.1" cy="233.3" r="0.7" fill="#d99aa0" fill-opacity="0.44"/>
<circle cx="926.3" cy="185.4" r="1.1" fill="#d99aa0" fill-opacity="0.46"/>
<circle cx="814.7" cy="170.6" r="0.9" fill="#d99aa0" fill-opacity="0.46"/>
<circle cx="950.4" cy="200.0" r="1.1" fill="#d99aa0" fill-opacity="0.21"/>
<circle cx="908.1" cy="192.2" r="0.7" fill="#d99aa0" fill-opacity="0.49"/>
<circle cx="904.7" cy="243.2" r="0.7" fill="#d99aa0" fill-opacity="0.29"/>
<circle cx="794.5" cy="176.8" r="0.7" fill="#d99aa0" fill-opacity="0.23"/>
<circle cx="890.7" cy="186.9" r="0.7" fill="#d99aa0" fill-opacity="0.45"/>
<circle cx="867.2" cy="176.9" r="0.7" fill="#d99aa0" fill-opacity="0.41"/>
<circle cx="972.5" cy="269.7" r="1.1" fill="#d99aa0" fill-opacity="0.25"/>
<circle cx="892.7" cy="264.8" r="1.1" fill="#d99aa0" fill-opacity="0.35"/>
<circle cx="895.8" cy="237.6" r="0.9" fill="#d99aa0" fill-opacity="0.47"/>
<circle cx="868.8" cy="206.6" r="0.7" fill="#d99aa0" fill-opacity="0.24"/>
<circle cx="833.1" cy="182.1" r="0.7" fill="#d99aa0" fill-opacity="0.48"/>
<circle cx="963.5" cy="222.4" r="1.1" fill="#d99aa0" fill-opacity="0.33"/>
<circle cx="929.4" cy="168.5" r="0.9" fill="#d99aa0" fill-opacity="0.49"/>
<circle cx="940.5" cy="228.7" r="0.9" fill="#d99aa0" fill-opacity="0.27"/>
<circle cx="875.5" cy="256.4" r="1.1" fill="#d99aa0" fill-opacity="0.44"/>
<circle cx="970.6" cy="171.9" r="1.1" fill="#d99aa0" fill-opacity="0.22"/>
<circle cx="787.4" cy="202.7" r="0.9" fill="#d99aa0" fill-opacity="0.27"/>
<circle cx="843.8" cy="244.9" r="0.9" fill="#d99aa0" fill-opacity="0.23"/>
<circle cx="915.3" cy="251.8" r="0.7" fill="#d99aa0" fill-opacity="0.35"/>
<circle cx="924.4" cy="218.2" r="0.9" fill="#d99aa0" fill-opacity="0.43"/>
<circle cx="958.8" cy="190.4" r="0.7" fill="#d99aa0" fill-opacity="0.21"/>
<circle cx="877.7" cy="187.5" r="1.1" fill="#d99aa0" fill-opacity="0.39"/>
<circle cx="843.5" cy="156.2" r="0.7" fill="#d99aa0" fill-opacity="0.39"/>
<circle cx="899.8" cy="269.5" r="0.9" fill="#d99aa0" fill-opacity="0.27"/>
<circle cx="921.4" cy="220.4" r="0.9" fill="#d99aa0" fill-opacity="0.39"/>
<circle cx="944.0" cy="256.5" r="1.1" fill="#d99aa0" fill-opacity="0.47"/>
<circle cx="951.8" cy="245.4" r="0.7" fill="#d99aa0" fill-opacity="0.33"/>
<circle cx="806.6" cy="208.2" r="0.9" fill="#d99aa0" fill-opacity="0.37"/>
<circle cx="888.9" cy="287.6" r="1.1" fill="#d99aa0" fill-opacity="0.36"/>
<circle cx="933.0" cy="162.8" r="1.1" fill="#d99aa0" fill-opacity="0.27"/>
<circle cx="857.0" cy="252.1" r="0.9" fill="#d99aa0" fill-opacity="0.34"/>
<circle cx="840.8" cy="196.6" r="0.9" fill="#d99aa0" fill-opacity="0.45"/>
<circle cx="939.8" cy="222.8" r="0.7" fill="#d99aa0" fill-opacity="0.35"/>
<circle cx="855.6" cy="255.0" r="0.7" fill="#d99aa0" fill-opacity="0.48"/>
<circle cx="882.1" cy="250.7" r="0.9" fill="#d99aa0" fill-opacity="0.29"/>
<circle cx="937.5" cy="212.0" r="0.7" fill="#d99aa0" fill-opacity="0.25"/>
<circle cx="885.0" cy="220.9" r="0.9" fill="#d99aa0" fill-opacity="0.45"/>
<circle cx="853.5" cy="275.6" r="1.1" fill="#d99aa0" fill-opacity="0.27"/>
<circle cx="971.3" cy="196.4" r="0.7" fill="#d99aa0" fill-opacity="0.33"/>
<circle cx="887.8" cy="193.4" r="0.7" fill="#d99aa0" fill-opacity="0.38"/>
<circle cx="949.1" cy="147.4" r="1.1" fill="#d99aa0" fill-opacity="0.23"/>
<circle cx="962.9" cy="135.2" r="0.9" fill="#d99aa0" fill-opacity="0.28"/>
<circle cx="856.6" cy="168.4" r="1.1" fill="#d99aa0" fill-opacity="0.24"/>
<circle cx="902.9" cy="212.0" r="1.1" fill="#d99aa0" fill-opacity="0.38"/>
<circle cx="784.6" cy="216.5" r="1.1" fill="#d99aa0" fill-opacity="0.24"/>
<circle cx="921.4" cy="185.5" r="1.1" fill="#d99aa0" fill-opacity="0.38"/>
<circle cx="864.1" cy="248.9" r="0.9" fill="#d99aa0" fill-opacity="0.29"/>
<circle cx="874.8" cy="248.6" r="1.1" fill="#d99aa0" fill-opacity="0.37"/>
<circle cx="870.3" cy="241.3" r="1.1" fill="#d99aa0" fill-opacity="0.45"/>
<circle cx="851.2" cy="215.1" r="0.7" fill="#d99aa0" fill-opacity="0.36"/>
<circle cx="915.7" cy="169.5" r="0.9" fill="#d99aa0" fill-opacity="0.37"/>
<circle cx="861.2" cy="292.5" r="0.7" fill="#d99aa0" fill-opacity="0.49"/>
<circle cx="913.4" cy="260.5" r="0.7" fill="#d99aa0" fill-opacity="0.21"/>
<circle cx="896.1" cy="310.6" r="0.9" fill="#d99aa0" fill-opacity="0.48"/>
<circle cx="908.2" cy="159.6" r="0.9" fill="#d99aa0" fill-opacity="0.36"/>
<circle cx="832.0" cy="207.6" r="0.9" fill="#d99aa0" fill-opacity="0.34"/>
<circle cx="965.4" cy="232.1" r="0.9" fill="#d99aa0" fill-opacity="0.48"/>
<circle cx="875.5" cy="165.8" r="0.7" fill="#d99aa0" fill-opacity="0.32"/>
<circle cx="834.9" cy="214.6" r="1.1" fill="#d99aa0" fill-opacity="0.25"/>
<circle cx="917.8" cy="258.6" r="0.9" fill="#d99aa0" fill-opacity="0.33"/>
<circle cx="869.4" cy="261.1" r="0.7" fill="#d99aa0" fill-opacity="0.25"/>
<circle cx="848.3" cy="328.4" r="0.9" fill="#d99aa0" fill-opacity="0.35"/>
<circle cx="869.2" cy="137.5" r="1.1" fill="#d99aa0" fill-opacity="0.47"/>
<circle cx="876.9" cy="227.5" r="0.9" fill="#d99aa0" fill-opacity="0.44"/>
<circle cx="886.5" cy="223.3" r="1.1" fill="#d99aa0" fill-opacity="0.38"/>
<circle cx="813.4" cy="329.3" r="1.1" fill="#d99aa0" fill-opacity="0.42"/>
<circle cx="897.6" cy="208.8" r="0.7" fill="#d99aa0" fill-opacity="0.29"/>
<circle cx="898.5" cy="211.3" r="0.9" fill="#d99aa0" fill-opacity="0.32"/>
<circle cx="906.5" cy="219.6" r="0.7" fill="#d99aa0" fill-opacity="0.26"/>
<circle cx="842.9" cy="215.8" r="0.9" fill="#d99aa0" fill-opacity="0.46"/>
<circle cx="942.9" cy="182.0" r="0.7" fill="#d99aa0" fill-opacity="0.37"/>
<circle cx="880.6" cy="227.1" r="0.7" fill="#d99aa0" fill-opacity="0.36"/>
<circle cx="889.1" cy="214.3" r="0.7" fill="#d99aa0" fill-opacity="0.25"/>
<circle cx="817.1" cy="203.2" r="1.1" fill="#d99aa0" fill-opacity="0.33"/>
<circle cx="920.3" cy="153.0" r="1.1" fill="#d99aa0" fill-opacity="0.43"/>
<circle cx="868.5" cy="279.0" r="0.9" fill="#d99aa0" fill-opacity="0.28"/>
<circle cx="962.0" cy="228.0" r="1.1" fill="#d99aa0" fill-opacity="0.22"/>
<circle cx="922.6" cy="273.8" r="0.7" fill="#d99aa0" fill-opacity="0.22"/>
<circle cx="946.0" cy="177.2" r="0.7" fill="#d99aa0" fill-opacity="0.33"/>
<circle cx="875.2" cy="191.6" r="0.7" fill="#d99aa0" fill-opacity="0.25"/>
<circle cx="876.3" cy="200.6" r="0.7" fill="#d99aa0" fill-opacity="0.47"/>
<circle cx="915.4" cy="179.9" r="1.1" fill="#d99aa0" fill-opacity="0.28"/>
<circle cx="961.7" cy="242.9" r="1.1" fill="#d99aa0" fill-opacity="0.42"/>
<circle cx="906.9" cy="253.1" r="1.1" fill="#d99aa0" fill-opacity="0.35"/>
<circle cx="908.9" cy="182.6" r="0.7" fill="#d99aa0" fill-opacity="0.25"/>
<circle cx="896.0" cy="218.8" r="0.9" fill="#d99aa0" fill-opacity="0.32"/>
<circle cx="873.5" cy="245.8" r="0.9" fill="#d99aa0" fill-opacity="0.30"/>
<circle cx="833.3" cy="121.6" r="0.9" fill="#d99aa0" fill-opacity="0.45"/>
<circle cx="880.0" cy="242.1" r="0.7" fill="#d99aa0" fill-opacity="0.34"/>
<circle cx="873.1" cy="254.9" r="0.9" fill="#d99aa0" fill-opacity="0.40"/>
<circle cx="885.8" cy="237.0" r="1.1" fill="#d99aa0" fill-opacity="0.24"/>
<circle cx="918.7" cy="268.3" r="0.7" fill="#d99aa0" fill-opacity="0.37"/>
<circle cx="821.6" cy="231.5" r="0.7" fill="#d99aa0" fill-opacity="0.25"/>
<circle cx="856.6" cy="272.5" r="0.9" fill="#d99aa0" fill-opacity="0.39"/>
<circle cx="867.0" cy="196.6" r="0.9" fill="#d99aa0" fill-opacity="0.35"/>
<circle cx="907.0" cy="263.9" r="0.7" fill="#d99aa0" fill-opacity="0.48"/>
<circle cx="960.6" cy="214.2" r="0.9" fill="#d99aa0" fill-opacity="0.38"/>
<circle cx="877.1" cy="240.0" r="1.1" fill="#d99aa0" fill-opacity="0.35"/>
<circle cx="952.9" cy="268.2" r="1.1" fill="#d99aa0" fill-opacity="0.35"/>
<circle cx="865.5" cy="205.6" r="0.9" fill="#d99aa0" fill-opacity="0.21"/>
<circle cx="895.0" cy="190.3" r="0.7" fill="#d99aa0" fill-opacity="0.32"/>
<circle cx="924.1" cy="229.5" r="0.7" fill="#d99aa0" fill-opacity="0.30"/>
<circle cx="888.7" cy="196.6" r="1.1" fill="#d99aa0" fill-opacity="0.47"/>
<circle cx="925.8" cy="143.7" r="0.7" fill="#d99aa0" fill-opacity="0.22"/>
<circle cx="887.9" cy="244.9" r="0.7" fill="#d99aa0" fill-opacity="0.45"/>
<circle cx="866.0" cy="240.0" r="0.9" fill="#d99aa0" fill-opacity="0.43"/>
<circle cx="966.3" cy="154.9" r="0.7" fill="#d99aa0" fill-opacity="0.48"/>
<circle cx="919.2" cy="253.5" r="1.1" fill="#d99aa0" fill-opacity="0.41"/>
<circle cx="908.1" cy="208.9" r="1.1" fill="#d99aa0" fill-opacity="0.41"/>
<circle cx="900.9" cy="302.1" r="0.9" fill="#d99aa0" fill-opacity="0.47"/>
<circle cx="930.5" cy="236.5" r="0.9" fill="#d99aa0" fill-opacity="0.47"/>
<circle cx="892.9" cy="144.3" r="0.7" fill="#d99aa0" fill-opacity="0.32"/>
<circle cx="862.9" cy="184.9" r="0.9" fill="#d99aa0" fill-opacity="0.25"/>
<circle cx="895.8" cy="158.1" r="1.1" fill="#d99aa0" fill-opacity="0.39"/>
<circle cx="835.4" cy="184.5" r="0.9" fill="#d99aa0" fill-opacity="0.48"/>
<circle cx="871.7" cy="163.4" r="0.7" fill="#d99aa0" fill-opacity="0.23"/>
<circle cx="905.6" cy="149.6" r="0.7" fill="#d99aa0" fill-opacity="0.46"/>
<circle cx="840.3" cy="179.6" r="0.7" fill="#d99aa0" fill-opacity="0.40"/>
<circle cx="938.3" cy="224.1" r="0.9" fill="#d99aa0" fill-opacity="0.42"/>
<circle cx="959.4" cy="250.7" r="0.9" fill="#d99aa0" fill-opacity="0.50"/>
<circle cx="876.2" cy="193.9" r="1.1" fill="#d99aa0" fill-opacity="0.23"/>
<circle cx="944.6" cy="199.4" r="0.9" fill="#d99aa0" fill-opacity="0.41"/>
<circle cx="893.9" cy="130.5" r="1.1" fill="#d99aa0" fill-opacity="0.39"/>
<circle cx="832.5" cy="211.3" r="0.7" fill="#d99aa0" fill-opacity="0.33"/>
<circle cx="797.0" cy="207.3" r="0.7" fill="#d99aa0" fill-opacity="0.35"/>
<circle cx="928.3" cy="879.5" r="0.7" fill="#b9a6d6" fill-opacity="0.36"/>
<circle cx="960.9" cy="895.1" r="1.1" fill="#b9a6d6" fill-opacity="0.28"/>
<circle cx="928.6" cy="897.5" r="0.9" fill="#b9a6d6" fill-opacity="0.32"/>
<circle cx="915.4" cy="914.8" r="0.7" fill="#b9a6d6" fill-opacity="0.41"/>
<circle cx="859.2" cy="901.8" r="1.1" fill="#b9a6d6" fill-opacity="0.27"/>
<circle cx="861.8" cy="898.1" r="1.1" fill="#b9a6d6" fill-opacity="0.31"/>
<circle cx="937.3" cy="918.0" r="0.9" fill="#b9a6d6" fill-opacity="0.39"/>
<circle cx="936.0" cy="912.8" r="0.7" fill="#b9a6d6" fill-opacity="0.40"/>
<circle cx="926.8" cy="884.5" r="0.7" fill="#b9a6d6" fill-opacity="0.23"/>
<circle cx="895.7" cy="916.5" r="0.7" fill="#b9a6d6" fill-opacity="0.21"/>
<circle cx="932.0" cy="890.7" r="0.7" fill="#b9a6d6" fill-opacity="0.41"/>
<circle cx="886.4" cy="902.8" r="0.9" fill="#b9a6d6" fill-opacity="0.33"/>
<circle cx="875.0" cy="893.7" r="1.1" fill="#b9a6d6" fill-opacity="0.22"/>
<circle cx="905.0" cy="892.5" r="1.1" fill="#b9a6d6" fill-opacity="0.30"/>
<circle cx="902.8" cy="885.9" r="1.1" fill="#b9a6d6" fill-opacity="0.35"/>
<circle cx="881.2" cy="904.7" r="1.1" fill="#b9a6d6" fill-opacity="0.30"/>
<circle cx="893.9" cy="906.1" r="0.9" fill="#b9a6d6" fill-opacity="0.39"/>
<circle cx="958.4" cy="889.6" r="0.9" fill="#b9a6d6" fill-opacity="0.40"/>
<circle cx="963.5" cy="914.1" r="0.7" fill="#b9a6d6" fill-opacity="0.43"/>
<circle cx="922.9" cy="887.2" r="0.7" fill="#b9a6d6" fill-opacity="0.49"/>
<circle cx="821.1" cy="893.9" r="1.1" fill="#b9a6d6" fill-opacity="0.25"/>
<circle cx="921.3" cy="866.9" r="1.1" fill="#b9a6d6" fill-opacity="0.39"/>
<circle cx="863.1" cy="917.9" r="0.9" fill="#b9a6d6" fill-opacity="0.30"/>
<circle cx="870.7" cy="916.8" r="0.9" fill="#b9a6d6" fill-opacity="0.45"/>
<circle cx="904.7" cy="906.2" r="0.7" fill="#b9a6d6" fill-opacity="0.37"/>
<circle cx="853.7" cy="876.0" r="1.1" fill="#b9a6d6" fill-opacity="0.32"/>
<circle cx="931.5" cy="903.9" r="0.9" fill="#b9a6d6" fill-opacity="0.35"/>
<circle cx="923.5" cy="912.7" r="1.1" fill="#b9a6d6" fill-opacity="0.39"/>
<circle cx="923.1" cy="910.1" r="0.7" fill="#b9a6d6" fill-opacity="0.33"/>
<circle cx="922.0" cy="898.5" r="0.7" fill="#b9a6d6" fill-opacity="0.46"/>
<circle cx="877.2" cy="901.6" r="0.9" fill="#b9a6d6" fill-opacity="0.20"/>
<circle cx="947.5" cy="870.2" r="1.1" fill="#b9a6d6" fill-opacity="0.33"/>
<circle cx="892.8" cy="925.9" r="1.1" fill="#b9a6d6" fill-opacity="0.41"/>
<circle cx="916.1" cy="895.9" r="0.7" fill="#b9a6d6" fill-opacity="0.40"/>
<circle cx="944.8" cy="865.4" r="0.7" fill="#b9a6d6" fill-opacity="0.31"/>
<circle cx="977.2" cy="900.9" r="1.1" fill="#b9a6d6" fill-opacity="0.30"/>
<circle cx="910.7" cy="907.1" r="0.9" fill="#b9a6d6" fill-opacity="0.36"/>
<circle cx="860.4" cy="909.7" r="1.1" fill="#b9a6d6" fill-opacity="0.46"/>
<circle cx="851.7" cy="877.5" r="0.7" fill="#b9a6d6" fill-opacity="0.42"/>
<circle cx="876.3" cy="923.0" r="1.1" fill="#b9a6d6" fill-opacity="0.37"/>
<circle cx="948.8" cy="894.0" r="1.1" fill="#b9a6d6" fill-opacity="0.24"/>
<circle cx="937.6" cy="883.4" r="1.1" fill="#b9a6d6" fill-opacity="0.21"/>
<circle cx="927.6" cy="925.1" r="0.9" fill="#b9a6d6" fill-opacity="0.41"/>
<circle cx="936.7" cy="918.9" r="1.1" fill="#b9a6d6" fill-opacity="0.37"/>
<circle cx="862.5" cy="911.1" r="1.1" fill="#b9a6d6" fill-opacity="0.33"/>
<circle cx="903.0" cy="912.9" r="0.7" fill="#b9a6d6" fill-opacity="0.36"/>
<circle cx="965.6" cy="923.2" r="0.9" fill="#b9a6d6" fill-opacity="0.39"/>
<circle cx="927.8" cy="924.8" r="1.1" fill="#b9a6d6" fill-opacity="0.35"/>
<circle cx="878.0" cy="895.7" r="1.1" fill="#b9a6d6" fill-opacity="0.41"/>
<circle cx="833.7" cy="885.7" r="1.1" fill="#b9a6d6" fill-opacity="0.22"/>
<circle cx="830.9" cy="913.3" r="1.1" fill="#b9a6d6" fill-opacity="0.35"/>
<circle cx="833.9" cy="867.3" r="1.1" fill="#b9a6d6" fill-opacity="0.23"/>
<circle cx="924.3" cy="884.3" r="0.7" fill="#b9a6d6" fill-opacity="0.49"/>
<circle cx="921.3" cy="919.1" r="0.7" fill="#b9a6d6" fill-opacity="0.24"/>
<circle cx="907.3" cy="893.9" r="0.7" fill="#b9a6d6" fill-opacity="0.21"/>
<circle cx="965.1" cy="907.3" r="0.7" fill="#b9a6d6" fill-opacity="0.34"/>
<circle cx="920.7" cy="906.7" r="0.7" fill="#b9a6d6" fill-opacity="0.39"/>
<circle cx="940.7" cy="883.3" r="1.1" fill="#b9a6d6" fill-opacity="0.46"/>
<circle cx="937.6" cy="925.9" r="0.9" fill="#b9a6d6" fill-opacity="0.44"/>
<circle cx="904.5" cy="897.3" r="0.9" fill="#b9a6d6" fill-opacity="0.24"/>
<circle cx="859.3" cy="921.1" r="0.9" fill="#b9a6d6" fill-opacity="0.42"/>
<circle cx="957.4" cy="906.6" r="0.7" fill="#b9a6d6" fill-opacity="0.31"/>
<circle cx="879.6" cy="921.6" r="0.7" fill="#b9a6d6" fill-opacity="0.48"/>
<circle cx="891.1" cy="887.7" r="0.7" fill="#b9a6d6" fill-opacity="0.41"/>
<circle cx="839.2" cy="911.8" r="0.9" fill="#b9a6d6" fill-opacity="0.23"/>
<circle cx="913.0" cy="889.1" r="1.1" fill="#b9a6d6" fill-opacity="0.48"/>
<circle cx="946.8" cy="880.9" r="0.7" fill="#b9a6d6" fill-opacity="0.38"/>
<circle cx="907.3" cy="885.8" r="0.9" fill="#b9a6d6" fill-opacity="0.20"/>
<circle cx="892.5" cy="908.6" r="1.1" fill="#b9a6d6" fill-opacity="0.35"/>
<circle cx="979.7" cy="906.8" r="0.7" fill="#b9a6d6" fill-opacity="0.25"/>
<circle cx="930.1" cy="875.3" r="0.9" fill="#b9a6d6" fill-opacity="0.45"/>
<circle cx="965.2" cy="894.4" r="0.9" fill="#b9a6d6" fill-opacity="0.32"/>
<circle cx="943.4" cy="882.3" r="0.7" fill="#b9a6d6" fill-opacity="0.31"/>
<circle cx="871.0" cy="897.3" r="0.7" fill="#b9a6d6" fill-opacity="0.38"/>
<circle cx="928.5" cy="903.0" r="0.9" fill="#b9a6d6" fill-opacity="0.42"/>
<circle cx="883.0" cy="917.6" r="0.9" fill="#b9a6d6" fill-opacity="0.29"/>
<circle cx="881.5" cy="917.8" r="0.7" fill="#b9a6d6" fill-opacity="0.21"/>
<circle cx="791.5" cy="913.3" r="0.7" fill="#b9a6d6" fill-opacity="0.39"/>
<circle cx="901.8" cy="890.1" r="0.9" fill="#b9a6d6" fill-opacity="0.28"/>
<circle cx="873.8" cy="900.0" r="1.1" fill="#b9a6d6" fill-opacity="0.37"/>
<circle cx="886.1" cy="895.0" r="1.1" fill="#b9a6d6" fill-opacity="0.21"/>
</g>
<circle cx="948.7" cy="121" r="6.6" fill="#8a5a5e" fill-opacity="0.6" stroke="#b46e58" stroke-opacity="0.8" stroke-width="1.6"/>
<circle cx="914.0" cy="134.0" r="3.0" fill="#f2a7b5" fill-opacity="1.00" />
<circle cx="859.6" cy="240.0" r="3.3" fill="#f0a3b0" fill-opacity="1.00" />
<circle cx="972.5" cy="248.0" r="3.0" fill="#f3b1c4" fill-opacity="1.00" />
<circle cx="712.7" cy="243.0" r="2.0" fill="#e8c94a" fill-opacity="1.00" />
<circle cx="746.0" cy="242.0" r="2.5" fill="#6fb59a" fill-opacity="1.00" />
<circle cx="803.0" cy="196.0" r="3.5" fill="#6f8a86" fill-opacity="0.80" />
<circle cx="773.5" cy="325.5" r="3.0" fill="#b9a5b5" fill-opacity="0.80" />
<circle cx="722.5" cy="339.0" r="3.0" fill="#6aa08c" fill-opacity="1.00" />
<circle cx="713.5" cy="310.0" r="2.5" fill="#8a9bb0" fill-opacity="0.70" />
<polygon points="692.5,351.5 694.4,356.0 699.2,356.3 695.5,359.5 696.6,364.2 692.5,361.6 688.4,364.2 689.5,359.5 685.8,356.3 690.6,356.0" fill="#e8c23a"/>
<circle cx="919.0" cy="360.5" r="8.0" fill="#2ea6d6" fill-opacity="1.00" />
<circle cx="919.5" cy="360.0" r="4.0" fill="#9ed86a" fill-opacity="1.00" />
<circle cx="921.0" cy="358.5" r="2.0" fill="#f4e04a" fill-opacity="1.00" />
<circle cx="945.0" cy="339.0" r="3.0" fill="#fbe3c0" fill-opacity="0.90" />
<circle cx="507.0" cy="445.0" r="4.2" fill="#f27a72" fill-opacity="1.00" />
<circle cx="507.0" cy="445.0" r="1.6" fill="#ffd9d0" fill-opacity="1.00" />
<circle cx="430.0" cy="413.7" r="3.0" fill="#79c4a4" fill-opacity="1.00" />
<circle cx="525.0" cy="410.7" r="2.6" fill="#7fcaa6" fill-opacity="1.00" />
<circle cx="608.6" cy="341.5" r="3.5" fill="#6aa79a" fill-opacity="1.00" />
<circle cx="589.0" cy="421.7" r="2.0" fill="#7fd0b0" fill-opacity="1.00" />
<circle cx="550.7" cy="376.0" r="2.5" fill="#5f9a98" fill-opacity="0.80" />
<rect x="389.0" y="426.5" width="4.0" height="4.0" fill="#f0e9dc" fill-opacity="1.00" />
<circle cx="592.0" cy="505.0" r="3.0" fill="#fde6c4" fill-opacity="0.85" />
<circle cx="626.0" cy="490.0" r="3.2" fill="#fbd9a8" fill-opacity="0.70" />
<circle cx="352.5" cy="498.2" r="3.0" fill="#6fb8a6" fill-opacity="1.00" />
<circle cx="343.8" cy="471.3" r="2.0" fill="#e0a8a8" fill-opacity="0.80" />
<circle cx="337.3" cy="506.4" r="1.6" fill="#e88a6a" fill-opacity="0.80" />
<circle cx="435.2" cy="434.6" r="1.6" fill="#e88a6a" fill-opacity="0.80" />
<circle cx="392.0" cy="449.3" r="2.0" fill="#5fb0c0" fill-opacity="0.80" />
<circle cx="491.7" cy="431.7" r="2.5" fill="#7f96ae" fill-opacity="0.70" />
<rect x="914.5" y="210.6" width="17.5" height="14.0" fill="#3f93d0" fill-opacity="1.00" rx="2"/>
<rect x="917.0" y="213.5" width="12.5" height="7.0" fill="#2b6aa8" fill-opacity="1.00" />
<circle cx="138.7" cy="568.2" r="3.0" fill="#f4f4ee" fill-opacity="1.00" />
<circle cx="166.3" cy="566.7" r="3.0" fill="#6fc0a0" fill-opacity="1.00" />
<circle cx="184.7" cy="589.0" r="3.0" fill="#d8e090" fill-opacity="1.00" />
<circle cx="120.9" cy="628.5" r="2.5" fill="#f0e6a8" fill-opacity="1.00" />
<circle cx="215.9" cy="653.7" r="4.5" fill="#ffffff" fill-opacity="0.55" />
<circle cx="235.8" cy="655.8" r="5.5" fill="#fff4ee" fill-opacity="0.95" />
<circle cx="353.3" cy="679.0" r="6.5" fill="#e8375a" fill-opacity="1.00" />
<circle cx="282.0" cy="705.7" r="3.0" fill="#ffffff" fill-opacity="0.90" />
<circle cx="311.8" cy="730.0" r="4.5" fill="#f4f6f8" fill-opacity="0.85" />
<circle cx="157.4" cy="757.3" r="3.5" fill="#ea4f5c" fill-opacity="1.00" />
<rect x="151.8" y="768.0" width="4.0" height="4.0" fill="#e8e4d8" fill-opacity="0.90" />
<rect x="160.4" y="766.6" width="4.0" height="4.0" fill="#d8d0c0" fill-opacity="0.80" />
<rect x="287.0" y="764.8" width="13.0" height="14.5" fill="#2fc3cc" fill-opacity="1.00" stroke="#bfeaf0" stroke-width="1.2"/>
<rect x="302.0" y="770.0" width="8.0" height="8.5" fill="#f0a83a" fill-opacity="1.00" stroke="#f6cc70" stroke-width="0.8"/>
<circle cx="339.7" cy="789.4" r="3.3" fill="#e6f6fa" fill-opacity="0.95" />
<circle cx="173.4" cy="804.8" r="4.5" fill="#bfe0f0" fill-opacity="0.35" />
<circle cx="121.8" cy="823.0" r="2.0" fill="#ffffff" fill-opacity="0.90" />
<circle cx="263.0" cy="787.8" r="4.0" fill="#ffffff" fill-opacity="0.25" />
<circle cx="103.8" cy="867.0" r="4.0" fill="#ffffff" fill-opacity="0.30" />
<circle cx="278.8" cy="850.0" r="4.0" fill="#ffffff" fill-opacity="0.25" />
<circle cx="483.2" cy="574.0" r="7.0" fill="#fffdfb" fill-opacity="1.00" />
<circle cx="613.9" cy="568.8" r="3.0" fill="#ffffff" fill-opacity="0.70" />
<circle cx="496.6" cy="635.6" r="2.5" fill="#ffffff" fill-opacity="0.90" />
<circle cx="457.4" cy="630.6" r="3.0" fill="#ffffff" fill-opacity="0.50" />
<circle cx="366.5" cy="622.5" r="3.0" fill="#f8c0c8" fill-opacity="0.70" />
<circle cx="447.6" cy="671.5" r="4.0" fill="#ffffff" fill-opacity="0.33" />
<circle cx="624.8" cy="667.0" r="3.5" fill="#ffffff" fill-opacity="0.40" />
<circle cx="404.5" cy="731.0" r="3.0" fill="#ffffff" fill-opacity="0.95" />
<rect x="567.6" y="803.0" width="5.2" height="5.2" fill="#e8f6f4" fill-opacity="0.90" rx="1.2"/>
<circle cx="630.2" cy="834.0" r="3.5" fill="#9ae4f4" fill-opacity="0.95" />
<rect x="507.8" y="730.6" width="24.0" height="16.6" fill="#ffffff" fill-opacity="0.08" rx="2.5" stroke="#b8e8ee" stroke-width="1.4"/>
<rect x="511.7" y="733.8" width="15.0" height="10.0" fill="#3ccfc8" fill-opacity="1.00" rx="1"/>
<rect x="518.5" y="749.0" width="5.0" height="1.6" fill="#b8e8ee" fill-opacity="0.80" />
<rect x="526.8" y="731.2" width="3.0" height="3.0" fill="#d8f4f4" fill-opacity="0.90" />
<path d="M709,452 q5,3 1,7 q-4,4 2,6 q5,1 4,-4" fill="none" stroke="#f0808a" stroke-width="2.2" stroke-linecap="round"/>
<rect x="750.5" y="452.3" width="23.8" height="16.8" fill="#f0a050" fill-opacity="0.25" stroke="#ead2bd" stroke-width="1.1"/>
<rect x="752.0" y="456.3" width="16.3" height="11.4" fill="#3bb7b9" fill-opacity="1.00" />
<rect x="753.5" y="460.5" width="13.0" height="2.0" fill="#2a8f9a" fill-opacity="0.80" />
<rect x="770.2" y="454.0" width="1.6" height="13.5" fill="#e8b8a0" fill-opacity="0.80" />
<rect x="777.6" y="489.6" width="11.2" height="10.9" fill="#5bd6cc" fill-opacity="1.00" stroke="#d8f0e4" stroke-width="0.9"/>
<rect x="780.0" y="484.2" width="4.5" height="1.8" fill="#f8a8a0" fill-opacity="0.80" />
<circle cx="767.0" cy="552.5" r="6.0" fill="#2a5fc8" fill-opacity="1.00" />
<circle cx="766.0" cy="551.0" r="2.5" fill="#6a9af0" fill-opacity="0.80" />
<rect x="794.6" y="591.0" width="19.0" height="14.0" fill="#4a78d0" fill-opacity="0.85" rx="2"/>
<circle cx="805.6" cy="605.6" r="3.0" fill="#f0783a" fill-opacity="1.00" />
<rect x="842.4" y="610.0" width="10.0" height="10.0" fill="#ffffff" fill-opacity="0.30" rx="2"/>
<rect x="913.7" y="607.8" width="10.0" height="10.0" fill="#ffffff" fill-opacity="0.30" rx="2"/>
<circle cx="941.5" cy="582.5" r="6.0" fill="#ffffff" fill-opacity="0.20" />
<circle cx="768.7" cy="428.4" r="2.5" fill="#fff6e6" fill-opacity="0.95" />
<circle cx="869.6" cy="463.8" r="3.0" fill="#fbd2c8" fill-opacity="0.60" />
<circle cx="683.4" cy="594.0" r="3.0" fill="#fbd0d8" fill-opacity="0.60" />
<circle cx="861.5" cy="580.0" r="3.0" fill="#f4b8d0" fill-opacity="0.80" />
<circle cx="840.6" cy="694.4" r="3.0" fill="#d8f0a8" fill-opacity="0.95" />
<rect x="786.5" y="687.8" width="10.0" height="10.0" fill="#ffffff" fill-opacity="0.28" rx="2"/>
<circle cx="712.4" cy="704.7" r="2.0" fill="#ffffff" fill-opacity="0.90" />
<circle cx="733.4" cy="761.6" r="4.0" fill="#7acbdc" fill-opacity="0.85" />
<circle cx="793.0" cy="742.2" r="2.5" fill="#e8b8c8" fill-opacity="0.80" />
<polygon points="917.0,733.2 918.7,737.3 923.2,737.7 919.8,740.6 920.8,745.0 917.0,742.6 913.2,745.0 914.2,740.6 910.8,737.7 915.3,737.3" fill="#e8784a"/>
<circle cx="958.4" cy="771.0" r="5.5" fill="#8fb0d0" fill-opacity="0.75" />
<circle cx="960.0" cy="817.0" r="3.0" fill="#f08aa0" fill-opacity="1.00" />
<circle cx="668.7" cy="806.0" r="3.0" fill="#f8f8e0" fill-opacity="1.00" />
<circle cx="791.0" cy="807.8" r="2.5" fill="#e0a8c8" fill-opacity="0.80" />
<circle cx="861.5" cy="808.4" r="2.0" fill="#e0a8c8" fill-opacity="0.80" />
<circle cx="779.6" cy="838.8" r="3.5" fill="#f0a0c0" fill-opacity="0.90" />
<circle cx="668.7" cy="862.5" r="4.5" fill="#f0a8c0" fill-opacity="1.00" />
<circle cx="712.4" cy="864.7" r="2.5" fill="#e8a0c0" fill-opacity="0.80" />
<circle cx="807.0" cy="882.5" r="4.5" fill="#f07a7a" fill-opacity="1.00" />
<circle cx="914.0" cy="874.0" r="3.5" fill="#ffffff" fill-opacity="1.00" />
<circle cx="713.0" cy="900.0" r="4.5" fill="#e8b0d0" fill-opacity="1.00" />
<circle cx="879.6" cy="917.0" r="5.0" fill="#9a92cc" fill-opacity="0.70" />
<circle cx="959.3" cy="911.0" r="4.0" fill="#ffffff" fill-opacity="0.25" />
<circle cx="762.4" cy="851.0" r="4.0" fill="#e0a8c0" fill-opacity="0.30" />
<circle cx="137.2" cy="905.6" r="8.3" fill="#2e56a6" stroke="#8e6ad8" stroke-opacity="0.9" stroke-width="3.4"/>
<circle cx="137.2" cy="905.6" r="2.5" fill="#7a5ac8" fill-opacity="0.70" />
<circle cx="339.0" cy="907.5" r="5.0" fill="#f0a0b8" fill-opacity="1.00" />
<circle cx="372.5" cy="880.6" r="3.0" fill="#f0a8c8" fill-opacity="0.90" />
<path d="M243,925 l8,3 l-3,2 l-1,4 z" fill="#ffffff"/>
<circle cx="244.4" cy="923.6" r="1.8" fill="#e83a3a" fill-opacity="1.00" />
<circle cx="76.0" cy="909.0" r="3.0" fill="#e0b0c8" fill-opacity="0.60" />
<circle cx="247.5" cy="882.5" r="2.5" fill="#f0c0d0" fill-opacity="0.80" />
<circle cx="217.0" cy="883.0" r="2.0" fill="#f0c0d0" fill-opacity="0.70" />
<circle cx="228.8" cy="839.4" r="2.0" fill="#ffffff" fill-opacity="0.50" />
<circle cx="228.8" cy="858.0" r="2.0" fill="#ffffff" fill-opacity="0.45" />
<circle cx="202.0" cy="914.0" r="2.5" fill="#e0a0c0" fill-opacity="0.60" />
<circle cx="401.3" cy="854.0" r="8.0" fill="#f5a623" fill-opacity="1.00" />
<circle cx="398.0" cy="851.0" r="3.0" fill="#f8c050" fill-opacity="0.80" />
<circle cx="668.4" cy="805.6" r="3.0" fill="#ffffff" fill-opacity="0.95" />
<circle cx="668.4" cy="862.2" r="4.5" fill="#f0a8c8" fill-opacity="1.00" />
<circle cx="596.6" cy="885.6" r="4.0" fill="#ffffff" fill-opacity="1.00" />
<circle cx="455.0" cy="926.0" r="2.5" fill="#f0c8e0" fill-opacity="0.90" />
<circle cx="407.5" cy="906.0" r="2.5" fill="#e8a0c0" fill-opacity="0.80" />
<circle cx="510.6" cy="916.6" r="2.5" fill="#e8a0c0" fill-opacity="0.80" />
<circle cx="537.0" cy="903.4" r="2.0" fill="#e8a0c0" fill-opacity="0.70" />
<circle cx="441.0" cy="868.0" r="2.0" fill="#e8a0c0" fill-opacity="0.70" />
<circle cx="547.5" cy="856.6" r="2.0" fill="#e8a0c0" fill-opacity="0.70" />
<circle cx="531.0" cy="831.6" r="4.0" fill="#ffffff" fill-opacity="0.22" />
<defs><linearGradient id="yax" x1="0" y1="134" x2="0" y2="941" gradientUnits="userSpaceOnUse"><stop offset="0" stop-color="#98a2b6"/><stop offset="0.5" stop-color="#a8b1c4"/><stop offset="1" stop-color="#d0d6e4"/></linearGradient></defs>
<rect x="61" y="134" width="2.2" height="807" fill="url(#yax)"/>
<defs><linearGradient id="lw" x1="0" y1="0" x2="1" y2="1"><stop offset="0" stop-color="#f2f2f4"/><stop offset="1" stop-color="#c9cbd2"/></linearGradient><linearGradient id="lo" x1="0" y1="0" x2="1" y2="1"><stop offset="0" stop-color="#fbc043"/><stop offset="1" stop-color="#f59a2e"/></linearGradient><linearGradient id="lb" x1="0" y1="0" x2="1" y2="1"><stop offset="0" stop-color="#48b2d6"/><stop offset="1" stop-color="#3a86c0"/></linearGradient><linearGradient id="lp" x1="0" y1="0" x2="1" y2="1"><stop offset="0" stop-color="#a86cc4"/><stop offset="1" stop-color="#8654a8"/></linearGradient><linearGradient id="lg" x1="0" y1="0" x2="1" y2="1"><stop offset="0" stop-color="#5f8a98"/><stop offset="1" stop-color="#4a7084"/></linearGradient></defs>
<rect x="47.5" y="104.5" width="27.5" height="31.0" fill="url(#lw)"/>
<rect x="47.5" y="171.0" width="27.5" height="31.0" fill="url(#lo)"/>
<rect x="47.5" y="240.0" width="27.5" height="32.0" fill="url(#lb)"/>
<rect x="47.5" y="307.5" width="27.5" height="31.5" fill="url(#lp)"/>
<rect x="47.5" y="377.0" width="27.5" height="31.0" fill="url(#lg)"/>
<text x="84.5" y="124.6" font-size="19.5" fill="#e9edf3" stroke="#e9edf3" stroke-width="0.45" stroke-opacity="0.8" text-anchor="start" font-weight="normal" fill-opacity="1.00" textLength="49.0" lengthAdjust="spacingAndGlyphs">YAI fOF</text>
<text x="83.5" y="190.3" font-size="17.0" fill="#e9edf3" stroke="#e9edf3" stroke-width="0.45" stroke-opacity="0.8" text-anchor="start" font-weight="normal" fill-opacity="1.00" textLength="54.0" lengthAdjust="spacingAndGlyphs">Den np</text>
<text x="84.5" y="257.7" font-size="17.0" fill="#e9edf3" stroke="#e9edf3" stroke-width="0.45" stroke-opacity="0.8" text-anchor="start" font-weight="normal" fill-opacity="1.00" textLength="52.5" lengthAdjust="spacingAndGlyphs">LYE0BS</text>
<text x="83.0" y="325.4" font-size="17.0" fill="#e9edf3" stroke="#e9edf3" stroke-width="0.45" stroke-opacity="0.8" text-anchor="start" font-weight="normal" fill-opacity="1.00" textLength="55.0" lengthAdjust="spacingAndGlyphs">Useory</text>
<text x="84.0" y="393.8" font-size="17.0" fill="#e9edf3" stroke="#e9edf3" stroke-width="0.45" stroke-opacity="0.8" text-anchor="start" font-weight="normal" fill-opacity="1.00" textLength="50.5" lengthAdjust="spacingAndGlyphs">HJ8SC</text>
<text x="717.0" y="149.0" font-size="15.0" fill="#e6e9f0" stroke="#e6e9f0" stroke-width="0.45" stroke-opacity="0.8" text-anchor="start" font-weight="normal" fill-opacity="1.00" textLength="62.5" lengthAdjust="spacingAndGlyphs">. Sbbdenn</text>
<circle cx="855.0" cy="184.0" r="6.3" fill="#e8364f" fill-opacity="1.00" />
<rect x="862.0" y="179.5" width="9.5" height="9.5" fill="#e8ecf2" fill-opacity="1.00" />
<rect x="863.5" y="183.0" width="8.0" height="2.0" fill="#2a3550" fill-opacity="1.00" />
<text x="877.5" y="189.0" font-size="14.0" fill="#3ea3d6" stroke="#3ea3d6" stroke-width="0.45" stroke-opacity="0.8" text-anchor="start" font-weight="normal" fill-opacity="1.00" textLength="59.5" lengthAdjust="spacingAndGlyphs">Inocbasen</text>
<text x="510.0" y="280.0" font-size="15.0" fill="#ea7b68" stroke="#ea7b68" stroke-width="0.45" stroke-opacity="0.8" text-anchor="start" font-weight="normal" fill-opacity="1.00" textLength="61.5" lengthAdjust="spacingAndGlyphs">. Tepplare</text>
<text x="395.4" y="485.0" font-size="15.5" fill="#e98a5a" stroke="#e98a5a" stroke-width="0.45" stroke-opacity="0.8" text-anchor="start" font-weight="normal" fill-opacity="1.00" textLength="81.0" lengthAdjust="spacingAndGlyphs">. Blishrovrce</text>
<text x="374.8" y="683.0" font-size="13.0" fill="#f3dcea" stroke="#f3dcea" stroke-width="0.45" stroke-opacity="0.8" text-anchor="start" font-weight="normal" fill-opacity="1.00" textLength="44.6" lengthAdjust="spacingAndGlyphs">Oplifon</text>
<rect x="61" y="938.8" width="920.5" height="2.2" fill="#d6dbe8"/>
<rect x="140.4" y="939" width="1.8" height="7.5" fill="#d6dbe8"/>
<rect x="215.1" y="939" width="1.8" height="7.5" fill="#d6dbe8"/>
<rect x="287.4" y="939" width="1.8" height="7.5" fill="#d6dbe8"/>
<rect x="363.4" y="939" width="1.8" height="7.5" fill="#d6dbe8"/>
<rect x="436.1" y="939" width="1.8" height="7.5" fill="#d6dbe8"/>
<rect x="512.4" y="939" width="1.8" height="7.5" fill="#d6dbe8"/>
<rect x="586.4" y="939" width="1.8" height="7.5" fill="#d6dbe8"/>
<rect x="661.1" y="939" width="1.8" height="7.5" fill="#d6dbe8"/>
<rect x="735.2" y="939" width="1.8" height="7.5" fill="#d6dbe8"/>
<rect x="807.6" y="939" width="1.8" height="7.5" fill="#d6dbe8"/>
<rect x="884.0" y="939" width="1.8" height="7.5" fill="#d6dbe8"/>
<rect x="956.0" y="939" width="1.8" height="7.5" fill="#d6dbe8"/>
<text x="50.6" y="964.9" font-size="13.5" fill="#e1e5ee" stroke="#e1e5ee" stroke-width="0.25" stroke-opacity="0.8" text-anchor="start" font-weight="normal" fill-opacity="1.00" textLength="29.2" lengthAdjust="spacingAndGlyphs">6000</text>
<text x="127.1" y="964.9" font-size="13.5" fill="#e1e5ee" stroke="#e1e5ee" stroke-width="0.25" stroke-opacity="0.8" text-anchor="start" font-weight="normal" fill-opacity="1.00" textLength="28.5" lengthAdjust="spacingAndGlyphs">.0710</text>
<text x="204.3" y="964.9" font-size="13.5" fill="#e1e5ee" stroke="#e1e5ee" stroke-width="0.25" stroke-opacity="0.8" text-anchor="start" font-weight="normal" fill-opacity="1.00" textLength="25.0" lengthAdjust="spacingAndGlyphs">44.4</text>
<text x="278.4" y="964.9" font-size="13.5" fill="#e1e5ee" stroke="#e1e5ee" stroke-width="0.25" stroke-opacity="0.8" text-anchor="start" font-weight="normal" fill-opacity="1.00" textLength="26.2" lengthAdjust="spacingAndGlyphs">50:8</text>
<text x="352.4" y="964.9" font-size="13.5" fill="#e1e5ee" stroke="#e1e5ee" stroke-width="0.25" stroke-opacity="0.8" text-anchor="start" font-weight="normal" fill-opacity="1.00" textLength="27.2" lengthAdjust="spacingAndGlyphs">20:0</text>
<text x="426.3" y="964.9" font-size="13.5" fill="#e1e5ee" stroke="#e1e5ee" stroke-width="0.25" stroke-opacity="0.8" text-anchor="start" font-weight="normal" fill-opacity="1.00" textLength="26.6" lengthAdjust="spacingAndGlyphs">50:0</text>
<text x="498.7" y="964.9" font-size="13.5" fill="#e1e5ee" stroke="#e1e5ee" stroke-width="0.25" stroke-opacity="0.8" text-anchor="start" font-weight="normal" fill-opacity="1.00" textLength="29.9" lengthAdjust="spacingAndGlyphs">1893</text>
<text x="576.4" y="964.9" font-size="13.5" fill="#e1e5ee" stroke="#e1e5ee" stroke-width="0.25" stroke-opacity="0.8" text-anchor="start" font-weight="normal" fill-opacity="1.00" textLength="24.2" lengthAdjust="spacingAndGlyphs">78:3</text>
<text x="651.4" y="964.9" font-size="13.5" fill="#e1e5ee" stroke="#e1e5ee" stroke-width="0.25" stroke-opacity="0.8" text-anchor="start" font-weight="normal" fill-opacity="1.00" textLength="24.6" lengthAdjust="spacingAndGlyphs">49.5</text>
<text x="724.5" y="964.9" font-size="13.5" fill="#e1e5ee" stroke="#e1e5ee" stroke-width="0.25" stroke-opacity="0.8" text-anchor="start" font-weight="normal" fill-opacity="1.00" textLength="25.9" lengthAdjust="spacingAndGlyphs">59:3</text>
<text x="798.8" y="964.9" font-size="13.5" fill="#e1e5ee" stroke="#e1e5ee" stroke-width="0.25" stroke-opacity="0.8" text-anchor="start" font-weight="normal" fill-opacity="1.00" textLength="26.5" lengthAdjust="spacingAndGlyphs">40.0</text>
<text x="874.0" y="964.9" font-size="13.5" fill="#e1e5ee" stroke="#e1e5ee" stroke-width="0.25" stroke-opacity="0.8" text-anchor="start" font-weight="normal" fill-opacity="1.00" textLength="25.9" lengthAdjust="spacingAndGlyphs">93:3</text>
<text x="944.5" y="964.9" font-size="13.5" fill="#e1e5ee" stroke="#e1e5ee" stroke-width="0.25" stroke-opacity="0.8" text-anchor="start" font-weight="normal" fill-opacity="1.00" textLength="24.9" lengthAdjust="spacingAndGlyphs">44.4</text>
</svg></body></html>
